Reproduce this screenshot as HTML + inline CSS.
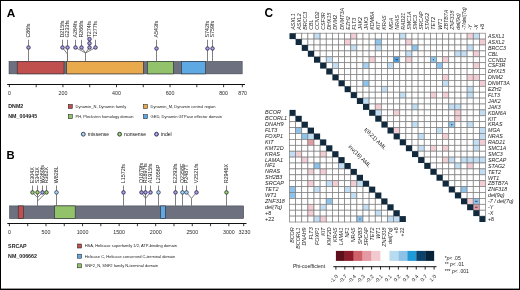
<!DOCTYPE html><html><head><meta charset="utf-8"><style>
html,body{margin:0;padding:0;background:#fff;width:520px;height:290px;overflow:hidden}
svg{display:block;will-change:transform}text{font-family:"Liberation Sans",sans-serif}
.it{font-style:italic}.b{font-weight:bold}
</style></head><body>
<svg width="520" height="290" viewBox="0 0 520 290">
<rect x="0" y="0" width="520" height="290" fill="#fff"/>
<text x="6.8" y="16.6" font-size="11.8" class="b">A</text>
<text x="6.6" y="158.8" font-size="11.3" class="b">B</text>
<text x="264.5" y="16.9" font-size="11.9" class="b">C</text>
<rect x="9.0" y="61.3" width="233.2" height="12.600000000000009" fill="#6c707f" stroke="#3a3d45" stroke-width="0.5"/>
<rect x="17.2" y="61.3" width="46.8" height="12.600000000000009" fill="#c0504e" stroke="#2c2e36" stroke-width="0.6"/>
<rect x="66.7" y="61.3" width="76.60000000000001" height="12.600000000000009" fill="#e9a94d" stroke="#2c2e36" stroke-width="0.6"/>
<rect x="147.4" y="61.3" width="25.900000000000006" height="12.600000000000009" fill="#92c26a" stroke="#2c2e36" stroke-width="0.6"/>
<rect x="181.5" y="61.3" width="24.0" height="12.600000000000009" fill="#5ea9e3" stroke="#2c2e36" stroke-width="0.6"/>
<line x1="7.2" y1="84.5" x2="245.0" y2="84.5" stroke="#111" stroke-width="1.0"/>
<line x1="9.4" y1="84.5" x2="9.4" y2="87.2" stroke="#111" stroke-width="0.85"/>
<line x1="36.175" y1="84.5" x2="36.175" y2="87.2" stroke="#111" stroke-width="0.85"/>
<line x1="62.949999999999996" y1="84.5" x2="62.949999999999996" y2="87.2" stroke="#111" stroke-width="0.85"/>
<line x1="89.72500000000001" y1="84.5" x2="89.72500000000001" y2="87.2" stroke="#111" stroke-width="0.85"/>
<line x1="116.5" y1="84.5" x2="116.5" y2="87.2" stroke="#111" stroke-width="0.85"/>
<line x1="143.275" y1="84.5" x2="143.275" y2="87.2" stroke="#111" stroke-width="0.85"/>
<line x1="170.05" y1="84.5" x2="170.05" y2="87.2" stroke="#111" stroke-width="0.85"/>
<line x1="196.825" y1="84.5" x2="196.825" y2="87.2" stroke="#111" stroke-width="0.85"/>
<line x1="223.6" y1="84.5" x2="223.6" y2="87.2" stroke="#111" stroke-width="0.85"/>
<line x1="242.3425" y1="84.5" x2="242.3425" y2="87.2" stroke="#111" stroke-width="0.85"/>
<text x="9.4" y="95.4" font-size="5.3" text-anchor="middle" fill="#2a2a2a">0</text>
<text x="62.949999999999996" y="95.4" font-size="5.3" text-anchor="middle" fill="#2a2a2a">200</text>
<text x="116.5" y="95.4" font-size="5.3" text-anchor="middle" fill="#2a2a2a">400</text>
<text x="170.05" y="95.4" font-size="5.3" text-anchor="middle" fill="#2a2a2a">600</text>
<text x="223.6" y="95.4" font-size="5.3" text-anchor="middle" fill="#2a2a2a">800</text>
<text x="242.6425" y="95.4" font-size="5.3" text-anchor="middle" fill="#2a2a2a">870</text>
<path d="M62.5,47.5 L67.5,54.2 L67.5,61.3" fill="none" stroke="#6a6a6a" stroke-width="0.85"/>
<path d="M67.5,47.5 L67.5,61.3" fill="none" stroke="#6a6a6a" stroke-width="0.85"/>
<path d="M75.5,47.5 L85.5,53.0" fill="none" stroke="#6a6a6a" stroke-width="0.85"/>
<path d="M81.5,47.5 L85.5,53.0" fill="none" stroke="#6a6a6a" stroke-width="0.85"/>
<path d="M89.5,47.5 L85.5,53.0" fill="none" stroke="#6a6a6a" stroke-width="0.85"/>
<path d="M95.5,47.5 L85.5,53.0" fill="none" stroke="#6a6a6a" stroke-width="0.85"/>
<path d="M85.5,53.0 L85.5,61.3" fill="none" stroke="#6a6a6a" stroke-width="0.85"/>
<path d="M28.5,47.5 L28.5,61.3" fill="none" stroke="#6a6a6a" stroke-width="0.85"/>
<path d="M156.5,48.5 L156.5,61.3" fill="none" stroke="#6a6a6a" stroke-width="0.85"/>
<path d="M207.5,48.5 L207.5,61.3" fill="none" stroke="#6a6a6a" stroke-width="0.85"/>
<path d="M212.5,48.5 L212.5,61.3" fill="none" stroke="#6a6a6a" stroke-width="0.85"/>
<line x1="28.5" y1="39.800000000000004" x2="28.5" y2="47.5" stroke="#7a7a7a" stroke-width="0.95"/>
<circle cx="28.5" cy="47.5" r="1.85" fill="#8a80d2" stroke="#1e1b30" stroke-width="0.6"/>
<path d="M27.5,47.5 H29.5 M28.5,46.5 V48.5" stroke="#fff" stroke-width="0.35" opacity="0.55"/>
<text transform="translate(30.4,37.6) rotate(-90)" font-size="5.4" fill="#222">C86fs</text>
<line x1="62.5" y1="39.800000000000004" x2="62.5" y2="47.5" stroke="#7a7a7a" stroke-width="0.95"/>
<circle cx="62.5" cy="47.5" r="1.85" fill="#8a80d2" stroke="#1e1b30" stroke-width="0.6"/>
<path d="M61.5,47.5 H63.5 M62.5,46.5 V48.5" stroke="#fff" stroke-width="0.35" opacity="0.55"/>
<text transform="translate(64.4,37.6) rotate(-90)" font-size="5.4" fill="#222">D215fs</text>
<line x1="67.5" y1="39.800000000000004" x2="67.5" y2="47.5" stroke="#7a7a7a" stroke-width="0.95"/>
<circle cx="67.5" cy="47.5" r="1.85" fill="#8a80d2" stroke="#1e1b30" stroke-width="0.6"/>
<path d="M66.5,47.5 H68.5 M67.5,46.5 V48.5" stroke="#fff" stroke-width="0.35" opacity="0.55"/>
<text transform="translate(69.4,37.6) rotate(-90)" font-size="5.4" fill="#222">G233fs</text>
<line x1="75.5" y1="39.800000000000004" x2="75.5" y2="47.5" stroke="#7a7a7a" stroke-width="0.95"/>
<circle cx="75.5" cy="47.5" r="1.85" fill="#8a80d2" stroke="#1e1b30" stroke-width="0.6"/>
<path d="M74.5,47.5 H76.5 M75.5,46.5 V48.5" stroke="#fff" stroke-width="0.35" opacity="0.55"/>
<text transform="translate(77.4,37.6) rotate(-90)" font-size="5.4" fill="#222">A264fs</text>
<line x1="81.5" y1="39.800000000000004" x2="81.5" y2="47.5" stroke="#7a7a7a" stroke-width="0.95"/>
<circle cx="81.5" cy="47.5" r="1.85" fill="#8a80d2" stroke="#1e1b30" stroke-width="0.6"/>
<path d="M80.5,47.5 H82.5 M81.5,46.5 V48.5" stroke="#fff" stroke-width="0.35" opacity="0.55"/>
<text transform="translate(83.4,37.6) rotate(-90)" font-size="5.4" fill="#222">R266fs</text>
<line x1="89.5" y1="39.800000000000004" x2="89.5" y2="47.5" stroke="#7a7a7a" stroke-width="0.95"/>
<circle cx="89.5" cy="47.5" r="1.85" fill="#8a80d2" stroke="#1e1b30" stroke-width="0.6"/>
<path d="M88.5,47.5 H90.5 M89.5,46.5 V48.5" stroke="#fff" stroke-width="0.35" opacity="0.55"/>
<circle cx="89.5" cy="43.3" r="1.85" fill="#8a80d2" stroke="#1e1b30" stroke-width="0.6"/>
<path d="M88.5,43.3 H90.5 M89.5,42.3 V44.3" stroke="#fff" stroke-width="0.35" opacity="0.55"/>
<circle cx="89.5" cy="39.1" r="1.85" fill="#8a80d2" stroke="#1e1b30" stroke-width="0.6"/>
<path d="M88.5,39.1 H90.5 M89.5,38.1 V40.1" stroke="#fff" stroke-width="0.35" opacity="0.55"/>
<text transform="translate(91.4,37.6) rotate(-90)" font-size="5.4" fill="#222">T274fs</text>
<line x1="95.5" y1="39.800000000000004" x2="95.5" y2="47.5" stroke="#7a7a7a" stroke-width="0.95"/>
<circle cx="95.5" cy="47.5" r="1.85" fill="#8a80d2" stroke="#1e1b30" stroke-width="0.6"/>
<path d="M94.5,47.5 H96.5 M95.5,46.5 V48.5" stroke="#fff" stroke-width="0.35" opacity="0.55"/>
<text transform="translate(97.4,37.6) rotate(-90)" font-size="5.4" fill="#222">T277fs</text>
<line x1="156.5" y1="39.800000000000004" x2="156.5" y2="48.5" stroke="#7a7a7a" stroke-width="0.95"/>
<circle cx="156.5" cy="48.5" r="1.85" fill="#8a80d2" stroke="#1e1b30" stroke-width="0.6"/>
<path d="M155.5,48.5 H157.5 M156.5,47.5 V49.5" stroke="#fff" stroke-width="0.35" opacity="0.55"/>
<text transform="translate(158.4,37.6) rotate(-90)" font-size="5.4" fill="#222">A543fs</text>
<line x1="207.5" y1="39.800000000000004" x2="207.5" y2="48.5" stroke="#7a7a7a" stroke-width="0.95"/>
<circle cx="207.5" cy="48.5" r="1.85" fill="#8a80d2" stroke="#1e1b30" stroke-width="0.6"/>
<path d="M206.5,48.5 H208.5 M207.5,47.5 V49.5" stroke="#fff" stroke-width="0.35" opacity="0.55"/>
<text transform="translate(209.4,37.6) rotate(-90)" font-size="5.4" fill="#222">S742fs</text>
<line x1="212.5" y1="39.800000000000004" x2="212.5" y2="48.5" stroke="#7a7a7a" stroke-width="0.95"/>
<circle cx="212.5" cy="48.5" r="1.85" fill="#8a80d2" stroke="#1e1b30" stroke-width="0.6"/>
<path d="M211.5,48.5 H213.5 M212.5,47.5 V49.5" stroke="#fff" stroke-width="0.35" opacity="0.55"/>
<text transform="translate(214.4,37.6) rotate(-90)" font-size="5.4" fill="#222">S759fs</text>
<text x="8.3" y="108.0" font-size="5.3" class="b" fill="#222">DNM2</text>
<text x="8.3" y="118.4" font-size="5.3" class="b" fill="#222">NM_004945</text>
<rect x="68.3" y="104.5" width="4" height="4" fill="#c0504e" stroke="#222" stroke-width="0.55"/>
<text x="75.5" y="107.95" font-size="4.02" fill="#222">Dynamin_N, Dynamin family</text>
<rect x="68.3" y="114.7" width="4" height="4" fill="#92c26a" stroke="#222" stroke-width="0.55"/>
<text x="75.5" y="118.15" font-size="4.02" fill="#222">PH, Pleckstrin homology domain</text>
<rect x="143.4" y="104.5" width="4" height="4" fill="#e9a94d" stroke="#222" stroke-width="0.55"/>
<text x="150.6" y="107.95" font-size="4.02" fill="#222">Dynamin_M, Dynamin central region</text>
<rect x="143.4" y="114.7" width="4" height="4" fill="#5ea9e3" stroke="#222" stroke-width="0.55"/>
<text x="150.6" y="118.15" font-size="4.02" fill="#222">GED, Dynamin GTPase effector domain</text>
<circle cx="83.3" cy="134.2" r="1.95" fill="#8fc7ee" stroke="#1c2030" stroke-width="0.75"/>
<path d="M82.2,134.2 H84.39999999999999 M83.3,133.1 V135.29999999999998" stroke="#f4f4ff" stroke-width="0.4" opacity="0.8"/>
<text x="87.8" y="136.04999999999998" font-size="5.05" fill="#111">missense</text>
<circle cx="119.6" cy="134.2" r="1.95" fill="#7cbb4c" stroke="#1c2030" stroke-width="0.75"/>
<path d="M118.5,134.2 H120.69999999999999 M119.6,133.1 V135.29999999999998" stroke="#f4f4ff" stroke-width="0.4" opacity="0.8"/>
<text x="124.1" y="136.04999999999998" font-size="5.05" fill="#111">nonsense</text>
<circle cx="156.5" cy="134.2" r="1.95" fill="#8a80d2" stroke="#1c2030" stroke-width="0.75"/>
<path d="M155.4,134.2 H157.6 M156.5,133.1 V135.29999999999998" stroke="#f4f4ff" stroke-width="0.4" opacity="0.8"/>
<text x="161.0" y="136.04999999999998" font-size="5.05" fill="#111">indel</text>
<rect x="9.5" y="205.9" width="234.2" height="12.699999999999989" fill="#6c707f" stroke="#3a3d45" stroke-width="0.5"/>
<rect x="18.2" y="205.9" width="5.300000000000001" height="12.699999999999989" fill="#c0504e" stroke="#2c2e36" stroke-width="0.6"/>
<rect x="54.6" y="205.9" width="20.6" height="12.699999999999989" fill="#92c26a" stroke="#2c2e36" stroke-width="0.6"/>
<rect x="160.7" y="205.9" width="4.600000000000023" height="12.699999999999989" fill="#5ea9e3" stroke="#2c2e36" stroke-width="0.6"/>
<line x1="7.3" y1="223.5" x2="246.5" y2="223.5" stroke="#111" stroke-width="1.0"/>
<line x1="9.4" y1="223.5" x2="9.4" y2="226.2" stroke="#111" stroke-width="0.85"/>
<line x1="27.6875" y1="223.5" x2="27.6875" y2="226.2" stroke="#111" stroke-width="0.85"/>
<line x1="45.975" y1="223.5" x2="45.975" y2="226.2" stroke="#111" stroke-width="0.85"/>
<line x1="64.2625" y1="223.5" x2="64.2625" y2="226.2" stroke="#111" stroke-width="0.85"/>
<line x1="82.55000000000001" y1="223.5" x2="82.55000000000001" y2="226.2" stroke="#111" stroke-width="0.85"/>
<line x1="100.83750000000002" y1="223.5" x2="100.83750000000002" y2="226.2" stroke="#111" stroke-width="0.85"/>
<line x1="119.12500000000001" y1="223.5" x2="119.12500000000001" y2="226.2" stroke="#111" stroke-width="0.85"/>
<line x1="137.41250000000002" y1="223.5" x2="137.41250000000002" y2="226.2" stroke="#111" stroke-width="0.85"/>
<line x1="155.70000000000002" y1="223.5" x2="155.70000000000002" y2="226.2" stroke="#111" stroke-width="0.85"/>
<line x1="173.9875" y1="223.5" x2="173.9875" y2="226.2" stroke="#111" stroke-width="0.85"/>
<line x1="192.27500000000003" y1="223.5" x2="192.27500000000003" y2="226.2" stroke="#111" stroke-width="0.85"/>
<line x1="210.56250000000003" y1="223.5" x2="210.56250000000003" y2="226.2" stroke="#111" stroke-width="0.85"/>
<line x1="228.85000000000002" y1="223.5" x2="228.85000000000002" y2="226.2" stroke="#111" stroke-width="0.85"/>
<line x1="243.7" y1="223.5" x2="243.7" y2="226.2" stroke="#111" stroke-width="0.85"/>
<text x="9.4" y="234.3" font-size="5.3" text-anchor="middle" fill="#2a2a2a">0</text>
<text x="45.975" y="234.3" font-size="5.3" text-anchor="middle" fill="#2a2a2a">500</text>
<text x="82.55000000000001" y="234.3" font-size="5.3" text-anchor="middle" fill="#2a2a2a">1000</text>
<text x="119.12500000000001" y="234.3" font-size="5.3" text-anchor="middle" fill="#2a2a2a">1500</text>
<text x="155.70000000000002" y="234.3" font-size="5.3" text-anchor="middle" fill="#2a2a2a">2000</text>
<text x="192.27500000000003" y="234.3" font-size="5.3" text-anchor="middle" fill="#2a2a2a">2500</text>
<text x="228.85000000000002" y="234.3" font-size="5.3" text-anchor="middle" fill="#2a2a2a">3000</text>
<text x="244.5" y="234.3" font-size="5.3" text-anchor="middle" fill="#2a2a2a">3230</text>
<path d="M32.5,192.4 L37.5,197.6" fill="none" stroke="#6a6a6a" stroke-width="0.85"/>
<path d="M42.5,192.4 L37.5,197.6" fill="none" stroke="#6a6a6a" stroke-width="0.85"/>
<path d="M46.5,192.4 L37.5,201.0" fill="none" stroke="#6a6a6a" stroke-width="0.85"/>
<path d="M37.5,192.4 L37.5,205.9" fill="none" stroke="#6a6a6a" stroke-width="0.85"/>
<path d="M141.5,192.4 L145.5,198.4" fill="none" stroke="#6a6a6a" stroke-width="0.85"/>
<path d="M150.5,192.4 L145.5,198.4" fill="none" stroke="#6a6a6a" stroke-width="0.85"/>
<path d="M145.5,192.4 L145.5,205.9" fill="none" stroke="#6a6a6a" stroke-width="0.85"/>
<path d="M186.5,192.4 L191.5,198.4" fill="none" stroke="#6a6a6a" stroke-width="0.85"/>
<path d="M196.5,192.4 L191.5,198.4" fill="none" stroke="#6a6a6a" stroke-width="0.85"/>
<path d="M191.5,198.4 L191.5,205.9" fill="none" stroke="#6a6a6a" stroke-width="0.85"/>
<path d="M56.5,192.4 L56.5,205.9" fill="none" stroke="#6a6a6a" stroke-width="0.85"/>
<path d="M123.5,192.4 L123.5,205.9" fill="none" stroke="#6a6a6a" stroke-width="0.85"/>
<path d="M158.5,192.4 L158.5,205.9" fill="none" stroke="#6a6a6a" stroke-width="0.85"/>
<path d="M175.5,192.4 L175.5,205.9" fill="none" stroke="#6a6a6a" stroke-width="0.85"/>
<path d="M182.5,192.4 L182.5,205.9" fill="none" stroke="#6a6a6a" stroke-width="0.85"/>
<path d="M226.5,192.4 L226.5,205.9" fill="none" stroke="#6a6a6a" stroke-width="0.85"/>
<line x1="32.5" y1="185.5" x2="32.5" y2="192.4" stroke="#7a7a7a" stroke-width="0.95"/>
<circle cx="32.5" cy="192.4" r="1.85" fill="#7cbb4c" stroke="#1e1b30" stroke-width="0.6"/>
<path d="M31.5,192.4 H33.5 M32.5,191.4 V193.4" stroke="#fff" stroke-width="0.35" opacity="0.55"/>
<text transform="translate(34.4,183.3) rotate(-90)" font-size="5.4" fill="#222">E304X</text>
<line x1="37.5" y1="185.5" x2="37.5" y2="192.4" stroke="#7a7a7a" stroke-width="0.95"/>
<circle cx="37.5" cy="192.4" r="1.85" fill="#7cbb4c" stroke="#1e1b30" stroke-width="0.6"/>
<path d="M36.5,192.4 H38.5 M37.5,191.4 V193.4" stroke="#fff" stroke-width="0.35" opacity="0.55"/>
<text transform="translate(39.4,183.3) rotate(-90)" font-size="5.4" fill="#222">S343X</text>
<line x1="42.5" y1="185.5" x2="42.5" y2="192.4" stroke="#7a7a7a" stroke-width="0.95"/>
<circle cx="42.5" cy="192.4" r="1.85" fill="#8a80d2" stroke="#1e1b30" stroke-width="0.6"/>
<path d="M41.5,192.4 H43.5 M42.5,191.4 V193.4" stroke="#fff" stroke-width="0.35" opacity="0.55"/>
<text transform="translate(44.4,183.3) rotate(-90)" font-size="5.4" fill="#222">W360fs</text>
<line x1="46.5" y1="185.5" x2="46.5" y2="192.4" stroke="#7a7a7a" stroke-width="0.95"/>
<circle cx="46.5" cy="192.4" r="1.85" fill="#7cbb4c" stroke="#1e1b30" stroke-width="0.6"/>
<path d="M45.5,192.4 H47.5 M46.5,191.4 V193.4" stroke="#fff" stroke-width="0.35" opacity="0.55"/>
<text transform="translate(48.4,183.3) rotate(-90)" font-size="5.4" fill="#222">R382X</text>
<line x1="56.5" y1="185.5" x2="56.5" y2="192.4" stroke="#7a7a7a" stroke-width="0.95"/>
<circle cx="56.5" cy="192.4" r="1.85" fill="#8fc7ee" stroke="#1e1b30" stroke-width="0.6"/>
<path d="M55.5,192.4 H57.5 M56.5,191.4 V193.4" stroke="#fff" stroke-width="0.35" opacity="0.55"/>
<text transform="translate(58.4,183.3) rotate(-90)" font-size="5.4" fill="#222">W828L</text>
<line x1="123.5" y1="185.5" x2="123.5" y2="192.4" stroke="#7a7a7a" stroke-width="0.95"/>
<circle cx="123.5" cy="192.4" r="1.85" fill="#8a80d2" stroke="#1e1b30" stroke-width="0.6"/>
<path d="M122.5,192.4 H124.5 M123.5,191.4 V193.4" stroke="#fff" stroke-width="0.35" opacity="0.55"/>
<text transform="translate(125.4,183.3) rotate(-90)" font-size="5.4" fill="#222">L1572fs</text>
<line x1="141.5" y1="185.5" x2="141.5" y2="192.4" stroke="#7a7a7a" stroke-width="0.95"/>
<circle cx="141.5" cy="192.4" r="1.85" fill="#8a80d2" stroke="#1e1b30" stroke-width="0.6"/>
<path d="M140.5,192.4 H142.5 M141.5,191.4 V193.4" stroke="#fff" stroke-width="0.35" opacity="0.55"/>
<text transform="translate(143.4,183.3) rotate(-90)" font-size="5.4" fill="#222">Q1879fs</text>
<line x1="145.5" y1="185.5" x2="145.5" y2="192.4" stroke="#7a7a7a" stroke-width="0.95"/>
<circle cx="145.5" cy="192.4" r="1.85" fill="#8a80d2" stroke="#1e1b30" stroke-width="0.6"/>
<path d="M144.5,192.4 H146.5 M145.5,191.4 V193.4" stroke="#fff" stroke-width="0.35" opacity="0.55"/>
<text transform="translate(147.4,183.3) rotate(-90)" font-size="5.4" fill="#222">R1897fs</text>
<line x1="150.5" y1="185.5" x2="150.5" y2="192.4" stroke="#7a7a7a" stroke-width="0.95"/>
<circle cx="150.5" cy="192.4" r="1.85" fill="#8a80d2" stroke="#1e1b30" stroke-width="0.6"/>
<path d="M149.5,192.4 H151.5 M150.5,191.4 V193.4" stroke="#fff" stroke-width="0.35" opacity="0.55"/>
<text transform="translate(152.4,183.3) rotate(-90)" font-size="5.4" fill="#222">A1915fs</text>
<line x1="158.5" y1="185.5" x2="158.5" y2="192.4" stroke="#7a7a7a" stroke-width="0.95"/>
<circle cx="158.5" cy="192.4" r="1.85" fill="#8fc7ee" stroke="#1e1b30" stroke-width="0.6"/>
<path d="M157.5,192.4 H159.5 M158.5,191.4 V193.4" stroke="#fff" stroke-width="0.35" opacity="0.55"/>
<text transform="translate(160.4,183.3) rotate(-90)" font-size="5.4" fill="#222">L2056P</text>
<line x1="175.5" y1="185.5" x2="175.5" y2="192.4" stroke="#7a7a7a" stroke-width="0.95"/>
<circle cx="175.5" cy="192.4" r="1.85" fill="#8a80d2" stroke="#1e1b30" stroke-width="0.6"/>
<path d="M174.5,192.4 H176.5 M175.5,191.4 V193.4" stroke="#fff" stroke-width="0.35" opacity="0.55"/>
<text transform="translate(177.4,183.3) rotate(-90)" font-size="5.4" fill="#222">E2293fs</text>
<line x1="182.5" y1="185.5" x2="182.5" y2="192.4" stroke="#7a7a7a" stroke-width="0.95"/>
<circle cx="182.5" cy="192.4" r="1.85" fill="#8fc7ee" stroke="#1e1b30" stroke-width="0.6"/>
<path d="M181.5,192.4 H183.5 M182.5,191.4 V193.4" stroke="#fff" stroke-width="0.35" opacity="0.55"/>
<text transform="translate(184.4,183.3) rotate(-90)" font-size="5.4" fill="#222">Q2358E</text>
<line x1="186.5" y1="185.5" x2="186.5" y2="192.4" stroke="#7a7a7a" stroke-width="0.95"/>
<circle cx="186.5" cy="192.4" r="1.85" fill="#8fc7ee" stroke="#1e1b30" stroke-width="0.6"/>
<path d="M185.5,192.4 H187.5 M186.5,191.4 V193.4" stroke="#fff" stroke-width="0.35" opacity="0.55"/>
<text transform="translate(188.4,183.3) rotate(-90)" font-size="5.4" fill="#222">P2487T</text>
<line x1="196.5" y1="185.5" x2="196.5" y2="192.4" stroke="#7a7a7a" stroke-width="0.95"/>
<circle cx="196.5" cy="192.4" r="1.85" fill="#8a80d2" stroke="#1e1b30" stroke-width="0.6"/>
<path d="M195.5,192.4 H197.5 M196.5,191.4 V193.4" stroke="#fff" stroke-width="0.35" opacity="0.55"/>
<text transform="translate(198.4,183.3) rotate(-90)" font-size="5.4" fill="#222">V2521fs</text>
<line x1="226.5" y1="185.5" x2="226.5" y2="192.4" stroke="#7a7a7a" stroke-width="0.95"/>
<circle cx="226.5" cy="192.4" r="1.85" fill="#7cbb4c" stroke="#1e1b30" stroke-width="0.6"/>
<path d="M225.5,192.4 H227.5 M226.5,191.4 V193.4" stroke="#fff" stroke-width="0.35" opacity="0.55"/>
<text transform="translate(228.4,183.3) rotate(-90)" font-size="5.4" fill="#222">R2946X</text>
<text x="8.1" y="247.8" font-size="5.3" class="b" fill="#222">SRCAP</text>
<text x="8.1" y="257.6" font-size="5.3" class="b" fill="#222">NM_006662</text>
<rect x="77.5" y="244.0" width="4" height="4" fill="#c0504e" stroke="#222" stroke-width="0.55"/>
<text x="84.7" y="247.45" font-size="4.02" fill="#222">HSA, Helicase superfamily 1/2, ATP-binding domain</text>
<rect x="77.5" y="254.2" width="4" height="4" fill="#5ea9e3" stroke="#222" stroke-width="0.55"/>
<text x="84.7" y="257.65" font-size="4.02" fill="#222">Helicase C, Helicase conserved C-terminal domain</text>
<rect x="77.5" y="263.8" width="4" height="4" fill="#92c26a" stroke="#222" stroke-width="0.55"/>
<text x="84.7" y="267.25" font-size="4.02" fill="#222">SNF2_N, SNF2 family N-terminal domain</text>
<rect x="295.625" y="33.200" width="6.125" height="5.900" fill="#ffffff" stroke="#7e7e7e" stroke-width="0.7"/>
<rect x="301.750" y="33.200" width="6.125" height="5.900" fill="#ffffff" stroke="#7e7e7e" stroke-width="0.7"/>
<rect x="307.875" y="33.200" width="6.125" height="5.900" fill="#ffffff" stroke="#7e7e7e" stroke-width="0.7"/>
<rect x="314.000" y="33.200" width="6.125" height="5.900" fill="#c1def4" stroke="#7e7e7e" stroke-width="0.7"/>
<rect x="320.125" y="33.200" width="6.125" height="5.900" fill="#ffffff" stroke="#7e7e7e" stroke-width="0.7"/>
<rect x="326.250" y="33.200" width="6.125" height="5.900" fill="#ffffff" stroke="#7e7e7e" stroke-width="0.7"/>
<rect x="332.375" y="33.200" width="6.125" height="5.900" fill="#ffffff" stroke="#7e7e7e" stroke-width="0.7"/>
<rect x="338.500" y="33.200" width="6.125" height="5.900" fill="#ffffff" stroke="#7e7e7e" stroke-width="0.7"/>
<rect x="344.625" y="33.200" width="6.125" height="5.900" fill="#ffffff" stroke="#7e7e7e" stroke-width="0.7"/>
<rect x="350.750" y="33.200" width="6.125" height="5.900" fill="#f3cdd4" stroke="#7e7e7e" stroke-width="0.7"/>
<rect x="356.875" y="33.200" width="6.125" height="5.900" fill="#ffffff" stroke="#7e7e7e" stroke-width="0.7"/>
<rect x="363.000" y="33.200" width="6.125" height="5.900" fill="#ffffff" stroke="#7e7e7e" stroke-width="0.7"/>
<rect x="369.125" y="33.200" width="6.125" height="5.900" fill="#ffffff" stroke="#7e7e7e" stroke-width="0.7"/>
<rect x="375.250" y="33.200" width="6.125" height="5.900" fill="#ffffff" stroke="#7e7e7e" stroke-width="0.7"/>
<rect x="381.375" y="33.200" width="6.125" height="5.900" fill="#ffffff" stroke="#7e7e7e" stroke-width="0.7"/>
<rect x="387.500" y="33.200" width="6.125" height="5.900" fill="#ffffff" stroke="#7e7e7e" stroke-width="0.7"/>
<rect x="393.625" y="33.200" width="6.125" height="5.900" fill="#ffffff" stroke="#7e7e7e" stroke-width="0.7"/>
<rect x="399.750" y="33.200" width="6.125" height="5.900" fill="#c1def4" stroke="#7e7e7e" stroke-width="0.7"/>
<rect x="405.875" y="33.200" width="6.125" height="5.900" fill="#ffffff" stroke="#7e7e7e" stroke-width="0.7"/>
<rect x="412.000" y="33.200" width="6.125" height="5.900" fill="#ffffff" stroke="#7e7e7e" stroke-width="0.7"/>
<rect x="418.125" y="33.200" width="6.125" height="5.900" fill="#ffffff" stroke="#7e7e7e" stroke-width="0.7"/>
<rect x="424.250" y="33.200" width="6.125" height="5.900" fill="#ffffff" stroke="#7e7e7e" stroke-width="0.7"/>
<rect x="430.375" y="33.200" width="6.125" height="5.900" fill="#ffffff" stroke="#7e7e7e" stroke-width="0.7"/>
<rect x="436.500" y="33.200" width="6.125" height="5.900" fill="#ffffff" stroke="#7e7e7e" stroke-width="0.7"/>
<rect x="442.625" y="33.200" width="6.125" height="5.900" fill="#ffffff" stroke="#7e7e7e" stroke-width="0.7"/>
<rect x="448.750" y="33.200" width="6.125" height="5.900" fill="#ffffff" stroke="#7e7e7e" stroke-width="0.7"/>
<rect x="454.875" y="33.200" width="6.125" height="5.900" fill="#ffffff" stroke="#7e7e7e" stroke-width="0.7"/>
<rect x="461.000" y="33.200" width="6.125" height="5.900" fill="#ffffff" stroke="#7e7e7e" stroke-width="0.7"/>
<rect x="467.125" y="33.200" width="6.125" height="5.900" fill="#f3cdd4" stroke="#7e7e7e" stroke-width="0.7"/>
<rect x="473.250" y="33.200" width="6.125" height="5.900" fill="#c1def4" stroke="#7e7e7e" stroke-width="0.7"/>
<rect x="479.375" y="33.200" width="6.125" height="5.900" fill="#ffffff" stroke="#7e7e7e" stroke-width="0.7"/>
<rect x="301.750" y="39.100" width="6.125" height="5.900" fill="#ffffff" stroke="#7e7e7e" stroke-width="0.7"/>
<rect x="307.875" y="39.100" width="6.125" height="5.900" fill="#ffffff" stroke="#7e7e7e" stroke-width="0.7"/>
<rect x="314.000" y="39.100" width="6.125" height="5.900" fill="#ffffff" stroke="#7e7e7e" stroke-width="0.7"/>
<rect x="320.125" y="39.100" width="6.125" height="5.900" fill="#ffffff" stroke="#7e7e7e" stroke-width="0.7"/>
<rect x="326.250" y="39.100" width="6.125" height="5.900" fill="#ffffff" stroke="#7e7e7e" stroke-width="0.7"/>
<rect x="332.375" y="39.100" width="6.125" height="5.900" fill="#ffffff" stroke="#7e7e7e" stroke-width="0.7"/>
<rect x="338.500" y="39.100" width="6.125" height="5.900" fill="#ffffff" stroke="#7e7e7e" stroke-width="0.7"/>
<rect x="344.625" y="39.100" width="6.125" height="5.900" fill="#f3cdd4" stroke="#7e7e7e" stroke-width="0.7"/>
<rect x="350.750" y="39.100" width="6.125" height="5.900" fill="#ffffff" stroke="#7e7e7e" stroke-width="0.7"/>
<rect x="356.875" y="39.100" width="6.125" height="5.900" fill="#ffffff" stroke="#7e7e7e" stroke-width="0.7"/>
<rect x="363.000" y="39.100" width="6.125" height="5.900" fill="#ffffff" stroke="#7e7e7e" stroke-width="0.7"/>
<rect x="369.125" y="39.100" width="6.125" height="5.900" fill="#ffffff" stroke="#7e7e7e" stroke-width="0.7"/>
<rect x="375.250" y="39.100" width="6.125" height="5.900" fill="#8dc2ea" stroke="#7e7e7e" stroke-width="0.7"/>
<rect x="381.375" y="39.100" width="6.125" height="5.900" fill="#ffffff" stroke="#7e7e7e" stroke-width="0.7"/>
<rect x="387.500" y="39.100" width="6.125" height="5.900" fill="#ffffff" stroke="#7e7e7e" stroke-width="0.7"/>
<rect x="393.625" y="39.100" width="6.125" height="5.900" fill="#ffffff" stroke="#7e7e7e" stroke-width="0.7"/>
<rect x="399.750" y="39.100" width="6.125" height="5.900" fill="#ffffff" stroke="#7e7e7e" stroke-width="0.7"/>
<rect x="405.875" y="39.100" width="6.125" height="5.900" fill="#f3cdd4" stroke="#7e7e7e" stroke-width="0.7"/>
<rect x="412.000" y="39.100" width="6.125" height="5.900" fill="#ffffff" stroke="#7e7e7e" stroke-width="0.7"/>
<rect x="418.125" y="39.100" width="6.125" height="5.900" fill="#ffffff" stroke="#7e7e7e" stroke-width="0.7"/>
<rect x="424.250" y="39.100" width="6.125" height="5.900" fill="#ffffff" stroke="#7e7e7e" stroke-width="0.7"/>
<rect x="430.375" y="39.100" width="6.125" height="5.900" fill="#ffffff" stroke="#7e7e7e" stroke-width="0.7"/>
<rect x="436.500" y="39.100" width="6.125" height="5.900" fill="#ffffff" stroke="#7e7e7e" stroke-width="0.7"/>
<rect x="442.625" y="39.100" width="6.125" height="5.900" fill="#ffffff" stroke="#7e7e7e" stroke-width="0.7"/>
<rect x="448.750" y="39.100" width="6.125" height="5.900" fill="#ffffff" stroke="#7e7e7e" stroke-width="0.7"/>
<rect x="454.875" y="39.100" width="6.125" height="5.900" fill="#ffffff" stroke="#7e7e7e" stroke-width="0.7"/>
<rect x="461.000" y="39.100" width="6.125" height="5.900" fill="#ffffff" stroke="#7e7e7e" stroke-width="0.7"/>
<rect x="467.125" y="39.100" width="6.125" height="5.900" fill="#ffffff" stroke="#7e7e7e" stroke-width="0.7"/>
<rect x="473.250" y="39.100" width="6.125" height="5.900" fill="#ffffff" stroke="#7e7e7e" stroke-width="0.7"/>
<rect x="479.375" y="39.100" width="6.125" height="5.900" fill="#f3cdd4" stroke="#7e7e7e" stroke-width="0.7"/>
<rect x="307.875" y="45.000" width="6.125" height="5.900" fill="#ffffff" stroke="#7e7e7e" stroke-width="0.7"/>
<rect x="314.000" y="45.000" width="6.125" height="5.900" fill="#ffffff" stroke="#7e7e7e" stroke-width="0.7"/>
<rect x="320.125" y="45.000" width="6.125" height="5.900" fill="#ffffff" stroke="#7e7e7e" stroke-width="0.7"/>
<rect x="326.250" y="45.000" width="6.125" height="5.900" fill="#ffffff" stroke="#7e7e7e" stroke-width="0.7"/>
<rect x="332.375" y="45.000" width="6.125" height="5.900" fill="#ffffff" stroke="#7e7e7e" stroke-width="0.7"/>
<rect x="338.500" y="45.000" width="6.125" height="5.900" fill="#ffffff" stroke="#7e7e7e" stroke-width="0.7"/>
<rect x="344.625" y="45.000" width="6.125" height="5.900" fill="#ffffff" stroke="#7e7e7e" stroke-width="0.7"/>
<rect x="350.750" y="45.000" width="6.125" height="5.900" fill="#c1def4" stroke="#7e7e7e" stroke-width="0.7"/>
<rect x="356.875" y="45.000" width="6.125" height="5.900" fill="#ffffff" stroke="#7e7e7e" stroke-width="0.7"/>
<rect x="363.000" y="45.000" width="6.125" height="5.900" fill="#ffffff" stroke="#7e7e7e" stroke-width="0.7"/>
<rect x="369.125" y="45.000" width="6.125" height="5.900" fill="#ffffff" stroke="#7e7e7e" stroke-width="0.7"/>
<rect x="375.250" y="45.000" width="6.125" height="5.900" fill="#c1def4" stroke="#7e7e7e" stroke-width="0.7"/>
<rect x="381.375" y="45.000" width="6.125" height="5.900" fill="#ffffff" stroke="#7e7e7e" stroke-width="0.7"/>
<rect x="387.500" y="45.000" width="6.125" height="5.900" fill="#ffffff" stroke="#7e7e7e" stroke-width="0.7"/>
<rect x="393.625" y="45.000" width="6.125" height="5.900" fill="#ffffff" stroke="#7e7e7e" stroke-width="0.7"/>
<rect x="399.750" y="45.000" width="6.125" height="5.900" fill="#ffffff" stroke="#7e7e7e" stroke-width="0.7"/>
<rect x="405.875" y="45.000" width="6.125" height="5.900" fill="#ffffff" stroke="#7e7e7e" stroke-width="0.7"/>
<rect x="412.000" y="45.000" width="6.125" height="5.900" fill="#8dc2ea" stroke="#7e7e7e" stroke-width="0.7"/>
<rect x="418.125" y="45.000" width="6.125" height="5.900" fill="#ffffff" stroke="#7e7e7e" stroke-width="0.7"/>
<rect x="424.250" y="45.000" width="6.125" height="5.900" fill="#ffffff" stroke="#7e7e7e" stroke-width="0.7"/>
<rect x="430.375" y="45.000" width="6.125" height="5.900" fill="#ffffff" stroke="#7e7e7e" stroke-width="0.7"/>
<rect x="436.500" y="45.000" width="6.125" height="5.900" fill="#ffffff" stroke="#7e7e7e" stroke-width="0.7"/>
<rect x="442.625" y="45.000" width="6.125" height="5.900" fill="#ffffff" stroke="#7e7e7e" stroke-width="0.7"/>
<rect x="448.750" y="45.000" width="6.125" height="5.900" fill="#ffffff" stroke="#7e7e7e" stroke-width="0.7"/>
<rect x="454.875" y="45.000" width="6.125" height="5.900" fill="#ffffff" stroke="#7e7e7e" stroke-width="0.7"/>
<rect x="461.000" y="45.000" width="6.125" height="5.900" fill="#ffffff" stroke="#7e7e7e" stroke-width="0.7"/>
<rect x="467.125" y="45.000" width="6.125" height="5.900" fill="#c1def4" stroke="#7e7e7e" stroke-width="0.7"/>
<rect x="473.250" y="45.000" width="6.125" height="5.900" fill="#ffffff" stroke="#7e7e7e" stroke-width="0.7"/>
<rect x="479.375" y="45.000" width="6.125" height="5.900" fill="#ffffff" stroke="#7e7e7e" stroke-width="0.7"/>
<rect x="314.000" y="50.900" width="6.125" height="5.900" fill="#ffffff" stroke="#7e7e7e" stroke-width="0.7"/>
<rect x="320.125" y="50.900" width="6.125" height="5.900" fill="#ffffff" stroke="#7e7e7e" stroke-width="0.7"/>
<rect x="326.250" y="50.900" width="6.125" height="5.900" fill="#ffffff" stroke="#7e7e7e" stroke-width="0.7"/>
<rect x="332.375" y="50.900" width="6.125" height="5.900" fill="#ffffff" stroke="#7e7e7e" stroke-width="0.7"/>
<rect x="338.500" y="50.900" width="6.125" height="5.900" fill="#ffffff" stroke="#7e7e7e" stroke-width="0.7"/>
<rect x="344.625" y="50.900" width="6.125" height="5.900" fill="#ffffff" stroke="#7e7e7e" stroke-width="0.7"/>
<rect x="350.750" y="50.900" width="6.125" height="5.900" fill="#ffffff" stroke="#7e7e7e" stroke-width="0.7"/>
<rect x="356.875" y="50.900" width="6.125" height="5.900" fill="#ffffff" stroke="#7e7e7e" stroke-width="0.7"/>
<rect x="363.000" y="50.900" width="6.125" height="5.900" fill="#ffffff" stroke="#7e7e7e" stroke-width="0.7"/>
<rect x="369.125" y="50.900" width="6.125" height="5.900" fill="#ffffff" stroke="#7e7e7e" stroke-width="0.7"/>
<rect x="375.250" y="50.900" width="6.125" height="5.900" fill="#ffffff" stroke="#7e7e7e" stroke-width="0.7"/>
<rect x="381.375" y="50.900" width="6.125" height="5.900" fill="#ffffff" stroke="#7e7e7e" stroke-width="0.7"/>
<rect x="387.500" y="50.900" width="6.125" height="5.900" fill="#ffffff" stroke="#7e7e7e" stroke-width="0.7"/>
<rect x="393.625" y="50.900" width="6.125" height="5.900" fill="#ffffff" stroke="#7e7e7e" stroke-width="0.7"/>
<rect x="399.750" y="50.900" width="6.125" height="5.900" fill="#ffffff" stroke="#7e7e7e" stroke-width="0.7"/>
<rect x="405.875" y="50.900" width="6.125" height="5.900" fill="#c1def4" stroke="#7e7e7e" stroke-width="0.7"/>
<rect x="412.000" y="50.900" width="6.125" height="5.900" fill="#ffffff" stroke="#7e7e7e" stroke-width="0.7"/>
<rect x="418.125" y="50.900" width="6.125" height="5.900" fill="#ffffff" stroke="#7e7e7e" stroke-width="0.7"/>
<rect x="424.250" y="50.900" width="6.125" height="5.900" fill="#ffffff" stroke="#7e7e7e" stroke-width="0.7"/>
<rect x="430.375" y="50.900" width="6.125" height="5.900" fill="#ffffff" stroke="#7e7e7e" stroke-width="0.7"/>
<rect x="436.500" y="50.900" width="6.125" height="5.900" fill="#ffffff" stroke="#7e7e7e" stroke-width="0.7"/>
<rect x="442.625" y="50.900" width="6.125" height="5.900" fill="#ffffff" stroke="#7e7e7e" stroke-width="0.7"/>
<rect x="448.750" y="50.900" width="6.125" height="5.900" fill="#ffffff" stroke="#7e7e7e" stroke-width="0.7"/>
<rect x="454.875" y="50.900" width="6.125" height="5.900" fill="#c1def4" stroke="#7e7e7e" stroke-width="0.7"/>
<rect x="461.000" y="50.900" width="6.125" height="5.900" fill="#c1def4" stroke="#7e7e7e" stroke-width="0.7"/>
<rect x="467.125" y="50.900" width="6.125" height="5.900" fill="#ffffff" stroke="#7e7e7e" stroke-width="0.7"/>
<rect x="473.250" y="50.900" width="6.125" height="5.900" fill="#f3cdd4" stroke="#7e7e7e" stroke-width="0.7"/>
<rect x="479.375" y="50.900" width="6.125" height="5.900" fill="#ffffff" stroke="#7e7e7e" stroke-width="0.7"/>
<rect x="320.125" y="56.800" width="6.125" height="5.900" fill="#ffffff" stroke="#7e7e7e" stroke-width="0.7"/>
<rect x="326.250" y="56.800" width="6.125" height="5.900" fill="#c1def4" stroke="#7e7e7e" stroke-width="0.7"/>
<rect x="332.375" y="56.800" width="6.125" height="5.900" fill="#ffffff" stroke="#7e7e7e" stroke-width="0.7"/>
<rect x="338.500" y="56.800" width="6.125" height="5.900" fill="#ffffff" stroke="#7e7e7e" stroke-width="0.7"/>
<rect x="344.625" y="56.800" width="6.125" height="5.900" fill="#ffffff" stroke="#7e7e7e" stroke-width="0.7"/>
<rect x="350.750" y="56.800" width="6.125" height="5.900" fill="#ffffff" stroke="#7e7e7e" stroke-width="0.7"/>
<rect x="356.875" y="56.800" width="6.125" height="5.900" fill="#ffffff" stroke="#7e7e7e" stroke-width="0.7"/>
<rect x="363.000" y="56.800" width="6.125" height="5.900" fill="#ffffff" stroke="#7e7e7e" stroke-width="0.7"/>
<rect x="369.125" y="56.800" width="6.125" height="5.900" fill="#f3cdd4" stroke="#7e7e7e" stroke-width="0.7"/>
<rect x="375.250" y="56.800" width="6.125" height="5.900" fill="#ffffff" stroke="#7e7e7e" stroke-width="0.7"/>
<rect x="381.375" y="56.800" width="6.125" height="5.900" fill="#ffffff" stroke="#7e7e7e" stroke-width="0.7"/>
<rect x="387.500" y="56.800" width="6.125" height="5.900" fill="#ffffff" stroke="#7e7e7e" stroke-width="0.7"/>
<rect x="393.625" y="56.800" width="6.125" height="5.900" fill="#4f9fdf" stroke="#7e7e7e" stroke-width="0.7"/>
<rect x="399.750" y="56.800" width="6.125" height="5.900" fill="#ffffff" stroke="#7e7e7e" stroke-width="0.7"/>
<rect x="405.875" y="56.800" width="6.125" height="5.900" fill="#f3cdd4" stroke="#7e7e7e" stroke-width="0.7"/>
<rect x="412.000" y="56.800" width="6.125" height="5.900" fill="#ffffff" stroke="#7e7e7e" stroke-width="0.7"/>
<rect x="418.125" y="56.800" width="6.125" height="5.900" fill="#ffffff" stroke="#7e7e7e" stroke-width="0.7"/>
<rect x="424.250" y="56.800" width="6.125" height="5.900" fill="#ffffff" stroke="#7e7e7e" stroke-width="0.7"/>
<rect x="430.375" y="56.800" width="6.125" height="5.900" fill="#8dc2ea" stroke="#7e7e7e" stroke-width="0.7"/>
<rect x="436.500" y="56.800" width="6.125" height="5.900" fill="#ffffff" stroke="#7e7e7e" stroke-width="0.7"/>
<rect x="442.625" y="56.800" width="6.125" height="5.900" fill="#f3cdd4" stroke="#7e7e7e" stroke-width="0.7"/>
<rect x="448.750" y="56.800" width="6.125" height="5.900" fill="#ffffff" stroke="#7e7e7e" stroke-width="0.7"/>
<rect x="454.875" y="56.800" width="6.125" height="5.900" fill="#ffffff" stroke="#7e7e7e" stroke-width="0.7"/>
<rect x="461.000" y="56.800" width="6.125" height="5.900" fill="#ffffff" stroke="#7e7e7e" stroke-width="0.7"/>
<rect x="467.125" y="56.800" width="6.125" height="5.900" fill="#ffffff" stroke="#7e7e7e" stroke-width="0.7"/>
<rect x="473.250" y="56.800" width="6.125" height="5.900" fill="#ffffff" stroke="#7e7e7e" stroke-width="0.7"/>
<rect x="479.375" y="56.800" width="6.125" height="5.900" fill="#ffffff" stroke="#7e7e7e" stroke-width="0.7"/>
<rect x="326.250" y="62.700" width="6.125" height="5.900" fill="#ffffff" stroke="#7e7e7e" stroke-width="0.7"/>
<rect x="332.375" y="62.700" width="6.125" height="5.900" fill="#c1def4" stroke="#7e7e7e" stroke-width="0.7"/>
<rect x="338.500" y="62.700" width="6.125" height="5.900" fill="#ffffff" stroke="#7e7e7e" stroke-width="0.7"/>
<rect x="344.625" y="62.700" width="6.125" height="5.900" fill="#ffffff" stroke="#7e7e7e" stroke-width="0.7"/>
<rect x="350.750" y="62.700" width="6.125" height="5.900" fill="#ffffff" stroke="#7e7e7e" stroke-width="0.7"/>
<rect x="356.875" y="62.700" width="6.125" height="5.900" fill="#ffffff" stroke="#7e7e7e" stroke-width="0.7"/>
<rect x="363.000" y="62.700" width="6.125" height="5.900" fill="#a6cff1" stroke="#7e7e7e" stroke-width="0.7"/>
<rect x="369.125" y="62.700" width="6.125" height="5.900" fill="#ffffff" stroke="#7e7e7e" stroke-width="0.7"/>
<rect x="375.250" y="62.700" width="6.125" height="5.900" fill="#ffffff" stroke="#7e7e7e" stroke-width="0.7"/>
<rect x="381.375" y="62.700" width="6.125" height="5.900" fill="#ffffff" stroke="#7e7e7e" stroke-width="0.7"/>
<rect x="387.500" y="62.700" width="6.125" height="5.900" fill="#c1def4" stroke="#7e7e7e" stroke-width="0.7"/>
<rect x="393.625" y="62.700" width="6.125" height="5.900" fill="#ffffff" stroke="#7e7e7e" stroke-width="0.7"/>
<rect x="399.750" y="62.700" width="6.125" height="5.900" fill="#ffffff" stroke="#7e7e7e" stroke-width="0.7"/>
<rect x="405.875" y="62.700" width="6.125" height="5.900" fill="#ffffff" stroke="#7e7e7e" stroke-width="0.7"/>
<rect x="412.000" y="62.700" width="6.125" height="5.900" fill="#ffffff" stroke="#7e7e7e" stroke-width="0.7"/>
<rect x="418.125" y="62.700" width="6.125" height="5.900" fill="#ffffff" stroke="#7e7e7e" stroke-width="0.7"/>
<rect x="424.250" y="62.700" width="6.125" height="5.900" fill="#ffffff" stroke="#7e7e7e" stroke-width="0.7"/>
<rect x="430.375" y="62.700" width="6.125" height="5.900" fill="#ffffff" stroke="#7e7e7e" stroke-width="0.7"/>
<rect x="436.500" y="62.700" width="6.125" height="5.900" fill="#8dc2ea" stroke="#7e7e7e" stroke-width="0.7"/>
<rect x="442.625" y="62.700" width="6.125" height="5.900" fill="#ffffff" stroke="#7e7e7e" stroke-width="0.7"/>
<rect x="448.750" y="62.700" width="6.125" height="5.900" fill="#ffffff" stroke="#7e7e7e" stroke-width="0.7"/>
<rect x="454.875" y="62.700" width="6.125" height="5.900" fill="#ffffff" stroke="#7e7e7e" stroke-width="0.7"/>
<rect x="461.000" y="62.700" width="6.125" height="5.900" fill="#ffffff" stroke="#7e7e7e" stroke-width="0.7"/>
<rect x="467.125" y="62.700" width="6.125" height="5.900" fill="#ffffff" stroke="#7e7e7e" stroke-width="0.7"/>
<rect x="473.250" y="62.700" width="6.125" height="5.900" fill="#f3cdd4" stroke="#7e7e7e" stroke-width="0.7"/>
<rect x="479.375" y="62.700" width="6.125" height="5.900" fill="#ffffff" stroke="#7e7e7e" stroke-width="0.7"/>
<rect x="332.375" y="68.600" width="6.125" height="5.900" fill="#ffffff" stroke="#7e7e7e" stroke-width="0.7"/>
<rect x="338.500" y="68.600" width="6.125" height="5.900" fill="#ffffff" stroke="#7e7e7e" stroke-width="0.7"/>
<rect x="344.625" y="68.600" width="6.125" height="5.900" fill="#ffffff" stroke="#7e7e7e" stroke-width="0.7"/>
<rect x="350.750" y="68.600" width="6.125" height="5.900" fill="#ffffff" stroke="#7e7e7e" stroke-width="0.7"/>
<rect x="356.875" y="68.600" width="6.125" height="5.900" fill="#ffffff" stroke="#7e7e7e" stroke-width="0.7"/>
<rect x="363.000" y="68.600" width="6.125" height="5.900" fill="#ffffff" stroke="#7e7e7e" stroke-width="0.7"/>
<rect x="369.125" y="68.600" width="6.125" height="5.900" fill="#ffffff" stroke="#7e7e7e" stroke-width="0.7"/>
<rect x="375.250" y="68.600" width="6.125" height="5.900" fill="#ffffff" stroke="#7e7e7e" stroke-width="0.7"/>
<rect x="381.375" y="68.600" width="6.125" height="5.900" fill="#ffffff" stroke="#7e7e7e" stroke-width="0.7"/>
<rect x="387.500" y="68.600" width="6.125" height="5.900" fill="#ffffff" stroke="#7e7e7e" stroke-width="0.7"/>
<rect x="393.625" y="68.600" width="6.125" height="5.900" fill="#ffffff" stroke="#7e7e7e" stroke-width="0.7"/>
<rect x="399.750" y="68.600" width="6.125" height="5.900" fill="#ffffff" stroke="#7e7e7e" stroke-width="0.7"/>
<rect x="405.875" y="68.600" width="6.125" height="5.900" fill="#ffffff" stroke="#7e7e7e" stroke-width="0.7"/>
<rect x="412.000" y="68.600" width="6.125" height="5.900" fill="#ffffff" stroke="#7e7e7e" stroke-width="0.7"/>
<rect x="418.125" y="68.600" width="6.125" height="5.900" fill="#ffffff" stroke="#7e7e7e" stroke-width="0.7"/>
<rect x="424.250" y="68.600" width="6.125" height="5.900" fill="#ffffff" stroke="#7e7e7e" stroke-width="0.7"/>
<rect x="430.375" y="68.600" width="6.125" height="5.900" fill="#ffffff" stroke="#7e7e7e" stroke-width="0.7"/>
<rect x="436.500" y="68.600" width="6.125" height="5.900" fill="#ffffff" stroke="#7e7e7e" stroke-width="0.7"/>
<rect x="442.625" y="68.600" width="6.125" height="5.900" fill="#ffffff" stroke="#7e7e7e" stroke-width="0.7"/>
<rect x="448.750" y="68.600" width="6.125" height="5.900" fill="#ffffff" stroke="#7e7e7e" stroke-width="0.7"/>
<rect x="454.875" y="68.600" width="6.125" height="5.900" fill="#ffffff" stroke="#7e7e7e" stroke-width="0.7"/>
<rect x="461.000" y="68.600" width="6.125" height="5.900" fill="#ffffff" stroke="#7e7e7e" stroke-width="0.7"/>
<rect x="467.125" y="68.600" width="6.125" height="5.900" fill="#ffffff" stroke="#7e7e7e" stroke-width="0.7"/>
<rect x="473.250" y="68.600" width="6.125" height="5.900" fill="#ffffff" stroke="#7e7e7e" stroke-width="0.7"/>
<rect x="479.375" y="68.600" width="6.125" height="5.900" fill="#ffffff" stroke="#7e7e7e" stroke-width="0.7"/>
<rect x="338.500" y="74.500" width="6.125" height="5.900" fill="#ffffff" stroke="#7e7e7e" stroke-width="0.7"/>
<rect x="344.625" y="74.500" width="6.125" height="5.900" fill="#ffffff" stroke="#7e7e7e" stroke-width="0.7"/>
<rect x="350.750" y="74.500" width="6.125" height="5.900" fill="#ffffff" stroke="#7e7e7e" stroke-width="0.7"/>
<rect x="356.875" y="74.500" width="6.125" height="5.900" fill="#ffffff" stroke="#7e7e7e" stroke-width="0.7"/>
<rect x="363.000" y="74.500" width="6.125" height="5.900" fill="#ffffff" stroke="#7e7e7e" stroke-width="0.7"/>
<rect x="369.125" y="74.500" width="6.125" height="5.900" fill="#ffffff" stroke="#7e7e7e" stroke-width="0.7"/>
<rect x="375.250" y="74.500" width="6.125" height="5.900" fill="#ffffff" stroke="#7e7e7e" stroke-width="0.7"/>
<rect x="381.375" y="74.500" width="6.125" height="5.900" fill="#ffffff" stroke="#7e7e7e" stroke-width="0.7"/>
<rect x="387.500" y="74.500" width="6.125" height="5.900" fill="#ffffff" stroke="#7e7e7e" stroke-width="0.7"/>
<rect x="393.625" y="74.500" width="6.125" height="5.900" fill="#ffffff" stroke="#7e7e7e" stroke-width="0.7"/>
<rect x="399.750" y="74.500" width="6.125" height="5.900" fill="#ffffff" stroke="#7e7e7e" stroke-width="0.7"/>
<rect x="405.875" y="74.500" width="6.125" height="5.900" fill="#ffffff" stroke="#7e7e7e" stroke-width="0.7"/>
<rect x="412.000" y="74.500" width="6.125" height="5.900" fill="#ffffff" stroke="#7e7e7e" stroke-width="0.7"/>
<rect x="418.125" y="74.500" width="6.125" height="5.900" fill="#ffffff" stroke="#7e7e7e" stroke-width="0.7"/>
<rect x="424.250" y="74.500" width="6.125" height="5.900" fill="#ffffff" stroke="#7e7e7e" stroke-width="0.7"/>
<rect x="430.375" y="74.500" width="6.125" height="5.900" fill="#ffffff" stroke="#7e7e7e" stroke-width="0.7"/>
<rect x="436.500" y="74.500" width="6.125" height="5.900" fill="#ffffff" stroke="#7e7e7e" stroke-width="0.7"/>
<rect x="442.625" y="74.500" width="6.125" height="5.900" fill="#f3cdd4" stroke="#7e7e7e" stroke-width="0.7"/>
<rect x="448.750" y="74.500" width="6.125" height="5.900" fill="#ffffff" stroke="#7e7e7e" stroke-width="0.7"/>
<rect x="454.875" y="74.500" width="6.125" height="5.900" fill="#ffffff" stroke="#7e7e7e" stroke-width="0.7"/>
<rect x="461.000" y="74.500" width="6.125" height="5.900" fill="#ffffff" stroke="#7e7e7e" stroke-width="0.7"/>
<rect x="467.125" y="74.500" width="6.125" height="5.900" fill="#f3cdd4" stroke="#7e7e7e" stroke-width="0.7"/>
<rect x="473.250" y="74.500" width="6.125" height="5.900" fill="#f3cdd4" stroke="#7e7e7e" stroke-width="0.7"/>
<rect x="479.375" y="74.500" width="6.125" height="5.900" fill="#ffffff" stroke="#7e7e7e" stroke-width="0.7"/>
<rect x="344.625" y="80.400" width="6.125" height="5.900" fill="#ffffff" stroke="#7e7e7e" stroke-width="0.7"/>
<rect x="350.750" y="80.400" width="6.125" height="5.900" fill="#ffffff" stroke="#7e7e7e" stroke-width="0.7"/>
<rect x="356.875" y="80.400" width="6.125" height="5.900" fill="#ffffff" stroke="#7e7e7e" stroke-width="0.7"/>
<rect x="363.000" y="80.400" width="6.125" height="5.900" fill="#8dc2ea" stroke="#7e7e7e" stroke-width="0.7"/>
<rect x="369.125" y="80.400" width="6.125" height="5.900" fill="#ffffff" stroke="#7e7e7e" stroke-width="0.7"/>
<rect x="375.250" y="80.400" width="6.125" height="5.900" fill="#ffffff" stroke="#7e7e7e" stroke-width="0.7"/>
<rect x="381.375" y="80.400" width="6.125" height="5.900" fill="#ffffff" stroke="#7e7e7e" stroke-width="0.7"/>
<rect x="387.500" y="80.400" width="6.125" height="5.900" fill="#ffffff" stroke="#7e7e7e" stroke-width="0.7"/>
<rect x="393.625" y="80.400" width="6.125" height="5.900" fill="#ffffff" stroke="#7e7e7e" stroke-width="0.7"/>
<rect x="399.750" y="80.400" width="6.125" height="5.900" fill="#ffffff" stroke="#7e7e7e" stroke-width="0.7"/>
<rect x="405.875" y="80.400" width="6.125" height="5.900" fill="#ffffff" stroke="#7e7e7e" stroke-width="0.7"/>
<rect x="412.000" y="80.400" width="6.125" height="5.900" fill="#ffffff" stroke="#7e7e7e" stroke-width="0.7"/>
<rect x="418.125" y="80.400" width="6.125" height="5.900" fill="#ffffff" stroke="#7e7e7e" stroke-width="0.7"/>
<rect x="424.250" y="80.400" width="6.125" height="5.900" fill="#ffffff" stroke="#7e7e7e" stroke-width="0.7"/>
<rect x="430.375" y="80.400" width="6.125" height="5.900" fill="#ffffff" stroke="#7e7e7e" stroke-width="0.7"/>
<rect x="436.500" y="80.400" width="6.125" height="5.900" fill="#ffffff" stroke="#7e7e7e" stroke-width="0.7"/>
<rect x="442.625" y="80.400" width="6.125" height="5.900" fill="#c1def4" stroke="#7e7e7e" stroke-width="0.7"/>
<rect x="448.750" y="80.400" width="6.125" height="5.900" fill="#ffffff" stroke="#7e7e7e" stroke-width="0.7"/>
<rect x="454.875" y="80.400" width="6.125" height="5.900" fill="#ffffff" stroke="#7e7e7e" stroke-width="0.7"/>
<rect x="461.000" y="80.400" width="6.125" height="5.900" fill="#ffffff" stroke="#7e7e7e" stroke-width="0.7"/>
<rect x="467.125" y="80.400" width="6.125" height="5.900" fill="#ffffff" stroke="#7e7e7e" stroke-width="0.7"/>
<rect x="473.250" y="80.400" width="6.125" height="5.900" fill="#ffffff" stroke="#7e7e7e" stroke-width="0.7"/>
<rect x="479.375" y="80.400" width="6.125" height="5.900" fill="#f3cdd4" stroke="#7e7e7e" stroke-width="0.7"/>
<rect x="350.750" y="86.300" width="6.125" height="5.900" fill="#ffffff" stroke="#7e7e7e" stroke-width="0.7"/>
<rect x="356.875" y="86.300" width="6.125" height="5.900" fill="#ffffff" stroke="#7e7e7e" stroke-width="0.7"/>
<rect x="363.000" y="86.300" width="6.125" height="5.900" fill="#ffffff" stroke="#7e7e7e" stroke-width="0.7"/>
<rect x="369.125" y="86.300" width="6.125" height="5.900" fill="#ffffff" stroke="#7e7e7e" stroke-width="0.7"/>
<rect x="375.250" y="86.300" width="6.125" height="5.900" fill="#ffffff" stroke="#7e7e7e" stroke-width="0.7"/>
<rect x="381.375" y="86.300" width="6.125" height="5.900" fill="#c1def4" stroke="#7e7e7e" stroke-width="0.7"/>
<rect x="387.500" y="86.300" width="6.125" height="5.900" fill="#ffffff" stroke="#7e7e7e" stroke-width="0.7"/>
<rect x="393.625" y="86.300" width="6.125" height="5.900" fill="#ffffff" stroke="#7e7e7e" stroke-width="0.7"/>
<rect x="399.750" y="86.300" width="6.125" height="5.900" fill="#ffffff" stroke="#7e7e7e" stroke-width="0.7"/>
<rect x="405.875" y="86.300" width="6.125" height="5.900" fill="#ffffff" stroke="#7e7e7e" stroke-width="0.7"/>
<rect x="412.000" y="86.300" width="6.125" height="5.900" fill="#ffffff" stroke="#7e7e7e" stroke-width="0.7"/>
<rect x="418.125" y="86.300" width="6.125" height="5.900" fill="#ffffff" stroke="#7e7e7e" stroke-width="0.7"/>
<rect x="424.250" y="86.300" width="6.125" height="5.900" fill="#ffffff" stroke="#7e7e7e" stroke-width="0.7"/>
<rect x="430.375" y="86.300" width="6.125" height="5.900" fill="#ffffff" stroke="#7e7e7e" stroke-width="0.7"/>
<rect x="436.500" y="86.300" width="6.125" height="5.900" fill="#ffffff" stroke="#7e7e7e" stroke-width="0.7"/>
<rect x="442.625" y="86.300" width="6.125" height="5.900" fill="#ffffff" stroke="#7e7e7e" stroke-width="0.7"/>
<rect x="448.750" y="86.300" width="6.125" height="5.900" fill="#ffffff" stroke="#7e7e7e" stroke-width="0.7"/>
<rect x="454.875" y="86.300" width="6.125" height="5.900" fill="#ffffff" stroke="#7e7e7e" stroke-width="0.7"/>
<rect x="461.000" y="86.300" width="6.125" height="5.900" fill="#ffffff" stroke="#7e7e7e" stroke-width="0.7"/>
<rect x="467.125" y="86.300" width="6.125" height="5.900" fill="#c1def4" stroke="#7e7e7e" stroke-width="0.7"/>
<rect x="473.250" y="86.300" width="6.125" height="5.900" fill="#ffffff" stroke="#7e7e7e" stroke-width="0.7"/>
<rect x="479.375" y="86.300" width="6.125" height="5.900" fill="#ffffff" stroke="#7e7e7e" stroke-width="0.7"/>
<rect x="356.875" y="92.200" width="6.125" height="5.900" fill="#ffffff" stroke="#7e7e7e" stroke-width="0.7"/>
<rect x="363.000" y="92.200" width="6.125" height="5.900" fill="#ffffff" stroke="#7e7e7e" stroke-width="0.7"/>
<rect x="369.125" y="92.200" width="6.125" height="5.900" fill="#ffffff" stroke="#7e7e7e" stroke-width="0.7"/>
<rect x="375.250" y="92.200" width="6.125" height="5.900" fill="#ffffff" stroke="#7e7e7e" stroke-width="0.7"/>
<rect x="381.375" y="92.200" width="6.125" height="5.900" fill="#ffffff" stroke="#7e7e7e" stroke-width="0.7"/>
<rect x="387.500" y="92.200" width="6.125" height="5.900" fill="#ffffff" stroke="#7e7e7e" stroke-width="0.7"/>
<rect x="393.625" y="92.200" width="6.125" height="5.900" fill="#ffffff" stroke="#7e7e7e" stroke-width="0.7"/>
<rect x="399.750" y="92.200" width="6.125" height="5.900" fill="#c1def4" stroke="#7e7e7e" stroke-width="0.7"/>
<rect x="405.875" y="92.200" width="6.125" height="5.900" fill="#ffffff" stroke="#7e7e7e" stroke-width="0.7"/>
<rect x="412.000" y="92.200" width="6.125" height="5.900" fill="#ffffff" stroke="#7e7e7e" stroke-width="0.7"/>
<rect x="418.125" y="92.200" width="6.125" height="5.900" fill="#ffffff" stroke="#7e7e7e" stroke-width="0.7"/>
<rect x="424.250" y="92.200" width="6.125" height="5.900" fill="#ffffff" stroke="#7e7e7e" stroke-width="0.7"/>
<rect x="430.375" y="92.200" width="6.125" height="5.900" fill="#f3cdd4" stroke="#7e7e7e" stroke-width="0.7"/>
<rect x="436.500" y="92.200" width="6.125" height="5.900" fill="#ffffff" stroke="#7e7e7e" stroke-width="0.7"/>
<rect x="442.625" y="92.200" width="6.125" height="5.900" fill="#f3cdd4" stroke="#7e7e7e" stroke-width="0.7"/>
<rect x="448.750" y="92.200" width="6.125" height="5.900" fill="#ffffff" stroke="#7e7e7e" stroke-width="0.7"/>
<rect x="454.875" y="92.200" width="6.125" height="5.900" fill="#ffffff" stroke="#7e7e7e" stroke-width="0.7"/>
<rect x="461.000" y="92.200" width="6.125" height="5.900" fill="#ffffff" stroke="#7e7e7e" stroke-width="0.7"/>
<rect x="467.125" y="92.200" width="6.125" height="5.900" fill="#c1def4" stroke="#7e7e7e" stroke-width="0.7"/>
<rect x="473.250" y="92.200" width="6.125" height="5.900" fill="#ffffff" stroke="#7e7e7e" stroke-width="0.7"/>
<rect x="479.375" y="92.200" width="6.125" height="5.900" fill="#ffffff" stroke="#7e7e7e" stroke-width="0.7"/>
<rect x="363.000" y="98.100" width="6.125" height="5.900" fill="#c1def4" stroke="#7e7e7e" stroke-width="0.7"/>
<rect x="369.125" y="98.100" width="6.125" height="5.900" fill="#ffffff" stroke="#7e7e7e" stroke-width="0.7"/>
<rect x="375.250" y="98.100" width="6.125" height="5.900" fill="#ffffff" stroke="#7e7e7e" stroke-width="0.7"/>
<rect x="381.375" y="98.100" width="6.125" height="5.900" fill="#ffffff" stroke="#7e7e7e" stroke-width="0.7"/>
<rect x="387.500" y="98.100" width="6.125" height="5.900" fill="#ffffff" stroke="#7e7e7e" stroke-width="0.7"/>
<rect x="393.625" y="98.100" width="6.125" height="5.900" fill="#ffffff" stroke="#7e7e7e" stroke-width="0.7"/>
<rect x="399.750" y="98.100" width="6.125" height="5.900" fill="#ffffff" stroke="#7e7e7e" stroke-width="0.7"/>
<rect x="405.875" y="98.100" width="6.125" height="5.900" fill="#ffffff" stroke="#7e7e7e" stroke-width="0.7"/>
<rect x="412.000" y="98.100" width="6.125" height="5.900" fill="#ffffff" stroke="#7e7e7e" stroke-width="0.7"/>
<rect x="418.125" y="98.100" width="6.125" height="5.900" fill="#ffffff" stroke="#7e7e7e" stroke-width="0.7"/>
<rect x="424.250" y="98.100" width="6.125" height="5.900" fill="#ffffff" stroke="#7e7e7e" stroke-width="0.7"/>
<rect x="430.375" y="98.100" width="6.125" height="5.900" fill="#ffffff" stroke="#7e7e7e" stroke-width="0.7"/>
<rect x="436.500" y="98.100" width="6.125" height="5.900" fill="#ffffff" stroke="#7e7e7e" stroke-width="0.7"/>
<rect x="442.625" y="98.100" width="6.125" height="5.900" fill="#ffffff" stroke="#7e7e7e" stroke-width="0.7"/>
<rect x="448.750" y="98.100" width="6.125" height="5.900" fill="#ffffff" stroke="#7e7e7e" stroke-width="0.7"/>
<rect x="454.875" y="98.100" width="6.125" height="5.900" fill="#ffffff" stroke="#7e7e7e" stroke-width="0.7"/>
<rect x="461.000" y="98.100" width="6.125" height="5.900" fill="#ffffff" stroke="#7e7e7e" stroke-width="0.7"/>
<rect x="467.125" y="98.100" width="6.125" height="5.900" fill="#ffffff" stroke="#7e7e7e" stroke-width="0.7"/>
<rect x="473.250" y="98.100" width="6.125" height="5.900" fill="#ffffff" stroke="#7e7e7e" stroke-width="0.7"/>
<rect x="479.375" y="98.100" width="6.125" height="5.900" fill="#ffffff" stroke="#7e7e7e" stroke-width="0.7"/>
<rect x="369.125" y="104.000" width="6.125" height="5.900" fill="#ffffff" stroke="#7e7e7e" stroke-width="0.7"/>
<rect x="375.250" y="104.000" width="6.125" height="5.900" fill="#f3cdd4" stroke="#7e7e7e" stroke-width="0.7"/>
<rect x="381.375" y="104.000" width="6.125" height="5.900" fill="#ffffff" stroke="#7e7e7e" stroke-width="0.7"/>
<rect x="387.500" y="104.000" width="6.125" height="5.900" fill="#ffffff" stroke="#7e7e7e" stroke-width="0.7"/>
<rect x="393.625" y="104.000" width="6.125" height="5.900" fill="#ffffff" stroke="#7e7e7e" stroke-width="0.7"/>
<rect x="399.750" y="104.000" width="6.125" height="5.900" fill="#ffffff" stroke="#7e7e7e" stroke-width="0.7"/>
<rect x="405.875" y="104.000" width="6.125" height="5.900" fill="#ffffff" stroke="#7e7e7e" stroke-width="0.7"/>
<rect x="412.000" y="104.000" width="6.125" height="5.900" fill="#c1def4" stroke="#7e7e7e" stroke-width="0.7"/>
<rect x="418.125" y="104.000" width="6.125" height="5.900" fill="#ffffff" stroke="#7e7e7e" stroke-width="0.7"/>
<rect x="424.250" y="104.000" width="6.125" height="5.900" fill="#ffffff" stroke="#7e7e7e" stroke-width="0.7"/>
<rect x="430.375" y="104.000" width="6.125" height="5.900" fill="#ffffff" stroke="#7e7e7e" stroke-width="0.7"/>
<rect x="436.500" y="104.000" width="6.125" height="5.900" fill="#ffffff" stroke="#7e7e7e" stroke-width="0.7"/>
<rect x="442.625" y="104.000" width="6.125" height="5.900" fill="#ffffff" stroke="#7e7e7e" stroke-width="0.7"/>
<rect x="448.750" y="104.000" width="6.125" height="5.900" fill="#c1def4" stroke="#7e7e7e" stroke-width="0.7"/>
<rect x="454.875" y="104.000" width="6.125" height="5.900" fill="#c1def4" stroke="#7e7e7e" stroke-width="0.7"/>
<rect x="461.000" y="104.000" width="6.125" height="5.900" fill="#ffffff" stroke="#7e7e7e" stroke-width="0.7"/>
<rect x="467.125" y="104.000" width="6.125" height="5.900" fill="#ffffff" stroke="#7e7e7e" stroke-width="0.7"/>
<rect x="473.250" y="104.000" width="6.125" height="5.900" fill="#ffffff" stroke="#7e7e7e" stroke-width="0.7"/>
<rect x="479.375" y="104.000" width="6.125" height="5.900" fill="#ffffff" stroke="#7e7e7e" stroke-width="0.7"/>
<rect x="375.250" y="109.900" width="6.125" height="5.900" fill="#c1def4" stroke="#7e7e7e" stroke-width="0.7"/>
<rect x="381.375" y="109.900" width="6.125" height="5.900" fill="#ffffff" stroke="#7e7e7e" stroke-width="0.7"/>
<rect x="387.500" y="109.900" width="6.125" height="5.900" fill="#ffffff" stroke="#7e7e7e" stroke-width="0.7"/>
<rect x="393.625" y="109.900" width="6.125" height="5.900" fill="#f3cdd4" stroke="#7e7e7e" stroke-width="0.7"/>
<rect x="399.750" y="109.900" width="6.125" height="5.900" fill="#ffffff" stroke="#7e7e7e" stroke-width="0.7"/>
<rect x="405.875" y="109.900" width="6.125" height="5.900" fill="#ffffff" stroke="#7e7e7e" stroke-width="0.7"/>
<rect x="412.000" y="109.900" width="6.125" height="5.900" fill="#ffffff" stroke="#7e7e7e" stroke-width="0.7"/>
<rect x="418.125" y="109.900" width="6.125" height="5.900" fill="#ffffff" stroke="#7e7e7e" stroke-width="0.7"/>
<rect x="424.250" y="109.900" width="6.125" height="5.900" fill="#ffffff" stroke="#7e7e7e" stroke-width="0.7"/>
<rect x="430.375" y="109.900" width="6.125" height="5.900" fill="#ffffff" stroke="#7e7e7e" stroke-width="0.7"/>
<rect x="436.500" y="109.900" width="6.125" height="5.900" fill="#ffffff" stroke="#7e7e7e" stroke-width="0.7"/>
<rect x="442.625" y="109.900" width="6.125" height="5.900" fill="#ffffff" stroke="#7e7e7e" stroke-width="0.7"/>
<rect x="448.750" y="109.900" width="6.125" height="5.900" fill="#ffffff" stroke="#7e7e7e" stroke-width="0.7"/>
<rect x="454.875" y="109.900" width="6.125" height="5.900" fill="#f3cdd4" stroke="#7e7e7e" stroke-width="0.7"/>
<rect x="461.000" y="109.900" width="6.125" height="5.900" fill="#ffffff" stroke="#7e7e7e" stroke-width="0.7"/>
<rect x="467.125" y="109.900" width="6.125" height="5.900" fill="#ffffff" stroke="#7e7e7e" stroke-width="0.7"/>
<rect x="473.250" y="109.900" width="6.125" height="5.900" fill="#ffffff" stroke="#7e7e7e" stroke-width="0.7"/>
<rect x="479.375" y="109.900" width="6.125" height="5.900" fill="#c1def4" stroke="#7e7e7e" stroke-width="0.7"/>
<rect x="381.375" y="115.800" width="6.125" height="5.900" fill="#ffffff" stroke="#7e7e7e" stroke-width="0.7"/>
<rect x="387.500" y="115.800" width="6.125" height="5.900" fill="#ffffff" stroke="#7e7e7e" stroke-width="0.7"/>
<rect x="393.625" y="115.800" width="6.125" height="5.900" fill="#ffffff" stroke="#7e7e7e" stroke-width="0.7"/>
<rect x="399.750" y="115.800" width="6.125" height="5.900" fill="#ffffff" stroke="#7e7e7e" stroke-width="0.7"/>
<rect x="405.875" y="115.800" width="6.125" height="5.900" fill="#ffffff" stroke="#7e7e7e" stroke-width="0.7"/>
<rect x="412.000" y="115.800" width="6.125" height="5.900" fill="#ffffff" stroke="#7e7e7e" stroke-width="0.7"/>
<rect x="418.125" y="115.800" width="6.125" height="5.900" fill="#ffffff" stroke="#7e7e7e" stroke-width="0.7"/>
<rect x="424.250" y="115.800" width="6.125" height="5.900" fill="#ffffff" stroke="#7e7e7e" stroke-width="0.7"/>
<rect x="430.375" y="115.800" width="6.125" height="5.900" fill="#ffffff" stroke="#7e7e7e" stroke-width="0.7"/>
<rect x="436.500" y="115.800" width="6.125" height="5.900" fill="#ffffff" stroke="#7e7e7e" stroke-width="0.7"/>
<rect x="442.625" y="115.800" width="6.125" height="5.900" fill="#ffffff" stroke="#7e7e7e" stroke-width="0.7"/>
<rect x="448.750" y="115.800" width="6.125" height="5.900" fill="#ffffff" stroke="#7e7e7e" stroke-width="0.7"/>
<rect x="454.875" y="115.800" width="6.125" height="5.900" fill="#f3cdd4" stroke="#7e7e7e" stroke-width="0.7"/>
<rect x="461.000" y="115.800" width="6.125" height="5.900" fill="#ffffff" stroke="#7e7e7e" stroke-width="0.7"/>
<rect x="467.125" y="115.800" width="6.125" height="5.900" fill="#ffffff" stroke="#7e7e7e" stroke-width="0.7"/>
<rect x="473.250" y="115.800" width="6.125" height="5.900" fill="#ffffff" stroke="#7e7e7e" stroke-width="0.7"/>
<rect x="479.375" y="115.800" width="6.125" height="5.900" fill="#ffffff" stroke="#7e7e7e" stroke-width="0.7"/>
<rect x="387.500" y="121.700" width="6.125" height="5.900" fill="#ffffff" stroke="#7e7e7e" stroke-width="0.7"/>
<rect x="393.625" y="121.700" width="6.125" height="5.900" fill="#ffffff" stroke="#7e7e7e" stroke-width="0.7"/>
<rect x="399.750" y="121.700" width="6.125" height="5.900" fill="#ffffff" stroke="#7e7e7e" stroke-width="0.7"/>
<rect x="405.875" y="121.700" width="6.125" height="5.900" fill="#ffffff" stroke="#7e7e7e" stroke-width="0.7"/>
<rect x="412.000" y="121.700" width="6.125" height="5.900" fill="#c1def4" stroke="#7e7e7e" stroke-width="0.7"/>
<rect x="418.125" y="121.700" width="6.125" height="5.900" fill="#ffffff" stroke="#7e7e7e" stroke-width="0.7"/>
<rect x="424.250" y="121.700" width="6.125" height="5.900" fill="#ffffff" stroke="#7e7e7e" stroke-width="0.7"/>
<rect x="430.375" y="121.700" width="6.125" height="5.900" fill="#ffffff" stroke="#7e7e7e" stroke-width="0.7"/>
<rect x="436.500" y="121.700" width="6.125" height="5.900" fill="#ffffff" stroke="#7e7e7e" stroke-width="0.7"/>
<rect x="442.625" y="121.700" width="6.125" height="5.900" fill="#ffffff" stroke="#7e7e7e" stroke-width="0.7"/>
<rect x="448.750" y="121.700" width="6.125" height="5.900" fill="#8dc2ea" stroke="#7e7e7e" stroke-width="0.7"/>
<rect x="454.875" y="121.700" width="6.125" height="5.900" fill="#ffffff" stroke="#7e7e7e" stroke-width="0.7"/>
<rect x="461.000" y="121.700" width="6.125" height="5.900" fill="#ffffff" stroke="#7e7e7e" stroke-width="0.7"/>
<rect x="467.125" y="121.700" width="6.125" height="5.900" fill="#c1def4" stroke="#7e7e7e" stroke-width="0.7"/>
<rect x="473.250" y="121.700" width="6.125" height="5.900" fill="#ffffff" stroke="#7e7e7e" stroke-width="0.7"/>
<rect x="479.375" y="121.700" width="6.125" height="5.900" fill="#ffffff" stroke="#7e7e7e" stroke-width="0.7"/>
<rect x="393.625" y="127.600" width="6.125" height="5.900" fill="#f3cdd4" stroke="#7e7e7e" stroke-width="0.7"/>
<rect x="399.750" y="127.600" width="6.125" height="5.900" fill="#ffffff" stroke="#7e7e7e" stroke-width="0.7"/>
<rect x="405.875" y="127.600" width="6.125" height="5.900" fill="#ffffff" stroke="#7e7e7e" stroke-width="0.7"/>
<rect x="412.000" y="127.600" width="6.125" height="5.900" fill="#ffffff" stroke="#7e7e7e" stroke-width="0.7"/>
<rect x="418.125" y="127.600" width="6.125" height="5.900" fill="#ffffff" stroke="#7e7e7e" stroke-width="0.7"/>
<rect x="424.250" y="127.600" width="6.125" height="5.900" fill="#ffffff" stroke="#7e7e7e" stroke-width="0.7"/>
<rect x="430.375" y="127.600" width="6.125" height="5.900" fill="#ffffff" stroke="#7e7e7e" stroke-width="0.7"/>
<rect x="436.500" y="127.600" width="6.125" height="5.900" fill="#c1def4" stroke="#7e7e7e" stroke-width="0.7"/>
<rect x="442.625" y="127.600" width="6.125" height="5.900" fill="#ffffff" stroke="#7e7e7e" stroke-width="0.7"/>
<rect x="448.750" y="127.600" width="6.125" height="5.900" fill="#ffffff" stroke="#7e7e7e" stroke-width="0.7"/>
<rect x="454.875" y="127.600" width="6.125" height="5.900" fill="#ffffff" stroke="#7e7e7e" stroke-width="0.7"/>
<rect x="461.000" y="127.600" width="6.125" height="5.900" fill="#ffffff" stroke="#7e7e7e" stroke-width="0.7"/>
<rect x="467.125" y="127.600" width="6.125" height="5.900" fill="#ffffff" stroke="#7e7e7e" stroke-width="0.7"/>
<rect x="473.250" y="127.600" width="6.125" height="5.900" fill="#ffffff" stroke="#7e7e7e" stroke-width="0.7"/>
<rect x="479.375" y="127.600" width="6.125" height="5.900" fill="#c1def4" stroke="#7e7e7e" stroke-width="0.7"/>
<rect x="399.750" y="133.500" width="6.125" height="5.900" fill="#ffffff" stroke="#7e7e7e" stroke-width="0.7"/>
<rect x="405.875" y="133.500" width="6.125" height="5.900" fill="#ffffff" stroke="#7e7e7e" stroke-width="0.7"/>
<rect x="412.000" y="133.500" width="6.125" height="5.900" fill="#ffffff" stroke="#7e7e7e" stroke-width="0.7"/>
<rect x="418.125" y="133.500" width="6.125" height="5.900" fill="#c1def4" stroke="#7e7e7e" stroke-width="0.7"/>
<rect x="424.250" y="133.500" width="6.125" height="5.900" fill="#ffffff" stroke="#7e7e7e" stroke-width="0.7"/>
<rect x="430.375" y="133.500" width="6.125" height="5.900" fill="#ffffff" stroke="#7e7e7e" stroke-width="0.7"/>
<rect x="436.500" y="133.500" width="6.125" height="5.900" fill="#ffffff" stroke="#7e7e7e" stroke-width="0.7"/>
<rect x="442.625" y="133.500" width="6.125" height="5.900" fill="#f3cdd4" stroke="#7e7e7e" stroke-width="0.7"/>
<rect x="448.750" y="133.500" width="6.125" height="5.900" fill="#ffffff" stroke="#7e7e7e" stroke-width="0.7"/>
<rect x="454.875" y="133.500" width="6.125" height="5.900" fill="#ffffff" stroke="#7e7e7e" stroke-width="0.7"/>
<rect x="461.000" y="133.500" width="6.125" height="5.900" fill="#ffffff" stroke="#7e7e7e" stroke-width="0.7"/>
<rect x="467.125" y="133.500" width="6.125" height="5.900" fill="#ffffff" stroke="#7e7e7e" stroke-width="0.7"/>
<rect x="473.250" y="133.500" width="6.125" height="5.900" fill="#ffffff" stroke="#7e7e7e" stroke-width="0.7"/>
<rect x="479.375" y="133.500" width="6.125" height="5.900" fill="#c1def4" stroke="#7e7e7e" stroke-width="0.7"/>
<rect x="405.875" y="139.400" width="6.125" height="5.900" fill="#ffffff" stroke="#7e7e7e" stroke-width="0.7"/>
<rect x="412.000" y="139.400" width="6.125" height="5.900" fill="#ffffff" stroke="#7e7e7e" stroke-width="0.7"/>
<rect x="418.125" y="139.400" width="6.125" height="5.900" fill="#ffffff" stroke="#7e7e7e" stroke-width="0.7"/>
<rect x="424.250" y="139.400" width="6.125" height="5.900" fill="#ffffff" stroke="#7e7e7e" stroke-width="0.7"/>
<rect x="430.375" y="139.400" width="6.125" height="5.900" fill="#ffffff" stroke="#7e7e7e" stroke-width="0.7"/>
<rect x="436.500" y="139.400" width="6.125" height="5.900" fill="#ffffff" stroke="#7e7e7e" stroke-width="0.7"/>
<rect x="442.625" y="139.400" width="6.125" height="5.900" fill="#ffffff" stroke="#7e7e7e" stroke-width="0.7"/>
<rect x="448.750" y="139.400" width="6.125" height="5.900" fill="#ffffff" stroke="#7e7e7e" stroke-width="0.7"/>
<rect x="454.875" y="139.400" width="6.125" height="5.900" fill="#ffffff" stroke="#7e7e7e" stroke-width="0.7"/>
<rect x="461.000" y="139.400" width="6.125" height="5.900" fill="#ffffff" stroke="#7e7e7e" stroke-width="0.7"/>
<rect x="467.125" y="139.400" width="6.125" height="5.900" fill="#ffffff" stroke="#7e7e7e" stroke-width="0.7"/>
<rect x="473.250" y="139.400" width="6.125" height="5.900" fill="#c1def4" stroke="#7e7e7e" stroke-width="0.7"/>
<rect x="479.375" y="139.400" width="6.125" height="5.900" fill="#f3cdd4" stroke="#7e7e7e" stroke-width="0.7"/>
<rect x="412.000" y="145.300" width="6.125" height="5.900" fill="#ffffff" stroke="#7e7e7e" stroke-width="0.7"/>
<rect x="418.125" y="145.300" width="6.125" height="5.900" fill="#c1def4" stroke="#7e7e7e" stroke-width="0.7"/>
<rect x="424.250" y="145.300" width="6.125" height="5.900" fill="#ffffff" stroke="#7e7e7e" stroke-width="0.7"/>
<rect x="430.375" y="145.300" width="6.125" height="5.900" fill="#f3cdd4" stroke="#7e7e7e" stroke-width="0.7"/>
<rect x="436.500" y="145.300" width="6.125" height="5.900" fill="#ffffff" stroke="#7e7e7e" stroke-width="0.7"/>
<rect x="442.625" y="145.300" width="6.125" height="5.900" fill="#f3cdd4" stroke="#7e7e7e" stroke-width="0.7"/>
<rect x="448.750" y="145.300" width="6.125" height="5.900" fill="#ffffff" stroke="#7e7e7e" stroke-width="0.7"/>
<rect x="454.875" y="145.300" width="6.125" height="5.900" fill="#ffffff" stroke="#7e7e7e" stroke-width="0.7"/>
<rect x="461.000" y="145.300" width="6.125" height="5.900" fill="#ffffff" stroke="#7e7e7e" stroke-width="0.7"/>
<rect x="467.125" y="145.300" width="6.125" height="5.900" fill="#ffffff" stroke="#7e7e7e" stroke-width="0.7"/>
<rect x="473.250" y="145.300" width="6.125" height="5.900" fill="#c1def4" stroke="#7e7e7e" stroke-width="0.7"/>
<rect x="479.375" y="145.300" width="6.125" height="5.900" fill="#ffffff" stroke="#7e7e7e" stroke-width="0.7"/>
<rect x="418.125" y="151.200" width="6.125" height="5.900" fill="#ffffff" stroke="#7e7e7e" stroke-width="0.7"/>
<rect x="424.250" y="151.200" width="6.125" height="5.900" fill="#ffffff" stroke="#7e7e7e" stroke-width="0.7"/>
<rect x="430.375" y="151.200" width="6.125" height="5.900" fill="#ffffff" stroke="#7e7e7e" stroke-width="0.7"/>
<rect x="436.500" y="151.200" width="6.125" height="5.900" fill="#ffffff" stroke="#7e7e7e" stroke-width="0.7"/>
<rect x="442.625" y="151.200" width="6.125" height="5.900" fill="#ffffff" stroke="#7e7e7e" stroke-width="0.7"/>
<rect x="448.750" y="151.200" width="6.125" height="5.900" fill="#ffffff" stroke="#7e7e7e" stroke-width="0.7"/>
<rect x="454.875" y="151.200" width="6.125" height="5.900" fill="#ffffff" stroke="#7e7e7e" stroke-width="0.7"/>
<rect x="461.000" y="151.200" width="6.125" height="5.900" fill="#ffffff" stroke="#7e7e7e" stroke-width="0.7"/>
<rect x="467.125" y="151.200" width="6.125" height="5.900" fill="#ffffff" stroke="#7e7e7e" stroke-width="0.7"/>
<rect x="473.250" y="151.200" width="6.125" height="5.900" fill="#ffffff" stroke="#7e7e7e" stroke-width="0.7"/>
<rect x="479.375" y="151.200" width="6.125" height="5.900" fill="#ffffff" stroke="#7e7e7e" stroke-width="0.7"/>
<rect x="424.250" y="157.100" width="6.125" height="5.900" fill="#ffffff" stroke="#7e7e7e" stroke-width="0.7"/>
<rect x="430.375" y="157.100" width="6.125" height="5.900" fill="#ffffff" stroke="#7e7e7e" stroke-width="0.7"/>
<rect x="436.500" y="157.100" width="6.125" height="5.900" fill="#ffffff" stroke="#7e7e7e" stroke-width="0.7"/>
<rect x="442.625" y="157.100" width="6.125" height="5.900" fill="#f3cdd4" stroke="#7e7e7e" stroke-width="0.7"/>
<rect x="448.750" y="157.100" width="6.125" height="5.900" fill="#c1def4" stroke="#7e7e7e" stroke-width="0.7"/>
<rect x="454.875" y="157.100" width="6.125" height="5.900" fill="#ffffff" stroke="#7e7e7e" stroke-width="0.7"/>
<rect x="461.000" y="157.100" width="6.125" height="5.900" fill="#c1def4" stroke="#7e7e7e" stroke-width="0.7"/>
<rect x="467.125" y="157.100" width="6.125" height="5.900" fill="#c1def4" stroke="#7e7e7e" stroke-width="0.7"/>
<rect x="473.250" y="157.100" width="6.125" height="5.900" fill="#c1def4" stroke="#7e7e7e" stroke-width="0.7"/>
<rect x="479.375" y="157.100" width="6.125" height="5.900" fill="#c1def4" stroke="#7e7e7e" stroke-width="0.7"/>
<rect x="430.375" y="163.000" width="6.125" height="5.900" fill="#ffffff" stroke="#7e7e7e" stroke-width="0.7"/>
<rect x="436.500" y="163.000" width="6.125" height="5.900" fill="#ffffff" stroke="#7e7e7e" stroke-width="0.7"/>
<rect x="442.625" y="163.000" width="6.125" height="5.900" fill="#ffffff" stroke="#7e7e7e" stroke-width="0.7"/>
<rect x="448.750" y="163.000" width="6.125" height="5.900" fill="#ffffff" stroke="#7e7e7e" stroke-width="0.7"/>
<rect x="454.875" y="163.000" width="6.125" height="5.900" fill="#c1def4" stroke="#7e7e7e" stroke-width="0.7"/>
<rect x="461.000" y="163.000" width="6.125" height="5.900" fill="#ffffff" stroke="#7e7e7e" stroke-width="0.7"/>
<rect x="467.125" y="163.000" width="6.125" height="5.900" fill="#f3cdd4" stroke="#7e7e7e" stroke-width="0.7"/>
<rect x="473.250" y="163.000" width="6.125" height="5.900" fill="#ffffff" stroke="#7e7e7e" stroke-width="0.7"/>
<rect x="479.375" y="163.000" width="6.125" height="5.900" fill="#ffffff" stroke="#7e7e7e" stroke-width="0.7"/>
<rect x="436.500" y="168.900" width="6.125" height="5.900" fill="#ffffff" stroke="#7e7e7e" stroke-width="0.7"/>
<rect x="442.625" y="168.900" width="6.125" height="5.900" fill="#ffffff" stroke="#7e7e7e" stroke-width="0.7"/>
<rect x="448.750" y="168.900" width="6.125" height="5.900" fill="#ffffff" stroke="#7e7e7e" stroke-width="0.7"/>
<rect x="454.875" y="168.900" width="6.125" height="5.900" fill="#ffffff" stroke="#7e7e7e" stroke-width="0.7"/>
<rect x="461.000" y="168.900" width="6.125" height="5.900" fill="#ffffff" stroke="#7e7e7e" stroke-width="0.7"/>
<rect x="467.125" y="168.900" width="6.125" height="5.900" fill="#ffffff" stroke="#7e7e7e" stroke-width="0.7"/>
<rect x="473.250" y="168.900" width="6.125" height="5.900" fill="#ffffff" stroke="#7e7e7e" stroke-width="0.7"/>
<rect x="479.375" y="168.900" width="6.125" height="5.900" fill="#c1def4" stroke="#7e7e7e" stroke-width="0.7"/>
<rect x="442.625" y="174.800" width="6.125" height="5.900" fill="#ffffff" stroke="#7e7e7e" stroke-width="0.7"/>
<rect x="448.750" y="174.800" width="6.125" height="5.900" fill="#ffffff" stroke="#7e7e7e" stroke-width="0.7"/>
<rect x="454.875" y="174.800" width="6.125" height="5.900" fill="#ffffff" stroke="#7e7e7e" stroke-width="0.7"/>
<rect x="461.000" y="174.800" width="6.125" height="5.900" fill="#ffffff" stroke="#7e7e7e" stroke-width="0.7"/>
<rect x="467.125" y="174.800" width="6.125" height="5.900" fill="#ffffff" stroke="#7e7e7e" stroke-width="0.7"/>
<rect x="473.250" y="174.800" width="6.125" height="5.900" fill="#ffffff" stroke="#7e7e7e" stroke-width="0.7"/>
<rect x="479.375" y="174.800" width="6.125" height="5.900" fill="#ffffff" stroke="#7e7e7e" stroke-width="0.7"/>
<rect x="448.750" y="180.700" width="6.125" height="5.900" fill="#ffffff" stroke="#7e7e7e" stroke-width="0.7"/>
<rect x="454.875" y="180.700" width="6.125" height="5.900" fill="#ffffff" stroke="#7e7e7e" stroke-width="0.7"/>
<rect x="461.000" y="180.700" width="6.125" height="5.900" fill="#ffffff" stroke="#7e7e7e" stroke-width="0.7"/>
<rect x="467.125" y="180.700" width="6.125" height="5.900" fill="#ffffff" stroke="#7e7e7e" stroke-width="0.7"/>
<rect x="473.250" y="180.700" width="6.125" height="5.900" fill="#ffffff" stroke="#7e7e7e" stroke-width="0.7"/>
<rect x="479.375" y="180.700" width="6.125" height="5.900" fill="#f3cdd4" stroke="#7e7e7e" stroke-width="0.7"/>
<rect x="454.875" y="186.600" width="6.125" height="5.900" fill="#ffffff" stroke="#7e7e7e" stroke-width="0.7"/>
<rect x="461.000" y="186.600" width="6.125" height="5.900" fill="#8dc2ea" stroke="#7e7e7e" stroke-width="0.7"/>
<rect x="467.125" y="186.600" width="6.125" height="5.900" fill="#ffffff" stroke="#7e7e7e" stroke-width="0.7"/>
<rect x="473.250" y="186.600" width="6.125" height="5.900" fill="#ffffff" stroke="#7e7e7e" stroke-width="0.7"/>
<rect x="479.375" y="186.600" width="6.125" height="5.900" fill="#ffffff" stroke="#7e7e7e" stroke-width="0.7"/>
<rect x="461.000" y="192.500" width="6.125" height="5.900" fill="#ffffff" stroke="#7e7e7e" stroke-width="0.7"/>
<rect x="467.125" y="192.500" width="6.125" height="5.900" fill="#ffffff" stroke="#7e7e7e" stroke-width="0.7"/>
<rect x="473.250" y="192.500" width="6.125" height="5.900" fill="#ffffff" stroke="#7e7e7e" stroke-width="0.7"/>
<rect x="479.375" y="192.500" width="6.125" height="5.900" fill="#ffffff" stroke="#7e7e7e" stroke-width="0.7"/>
<rect x="467.125" y="198.400" width="6.125" height="5.900" fill="#f3cdd4" stroke="#7e7e7e" stroke-width="0.7"/>
<rect x="473.250" y="198.400" width="6.125" height="5.900" fill="#8dc2ea" stroke="#7e7e7e" stroke-width="0.7"/>
<rect x="479.375" y="198.400" width="6.125" height="5.900" fill="#ffffff" stroke="#7e7e7e" stroke-width="0.7"/>
<rect x="473.250" y="204.300" width="6.125" height="5.900" fill="#e39aa5" stroke="#7e7e7e" stroke-width="0.7"/>
<rect x="479.375" y="204.300" width="6.125" height="5.900" fill="#ffffff" stroke="#7e7e7e" stroke-width="0.7"/>
<rect x="479.375" y="210.200" width="6.125" height="5.900" fill="#ffffff" stroke="#7e7e7e" stroke-width="0.7"/>
<rect x="289.500" y="33.200" width="6.125" height="5.900" fill="#112a3d"/>
<rect x="295.625" y="39.100" width="6.125" height="5.900" fill="#112a3d"/>
<rect x="301.750" y="45.000" width="6.125" height="5.900" fill="#112a3d"/>
<rect x="307.875" y="50.900" width="6.125" height="5.900" fill="#112a3d"/>
<rect x="314.000" y="56.800" width="6.125" height="5.900" fill="#112a3d"/>
<rect x="320.125" y="62.700" width="6.125" height="5.900" fill="#112a3d"/>
<rect x="326.250" y="68.600" width="6.125" height="5.900" fill="#112a3d"/>
<rect x="332.375" y="74.500" width="6.125" height="5.900" fill="#112a3d"/>
<rect x="338.500" y="80.400" width="6.125" height="5.900" fill="#112a3d"/>
<rect x="344.625" y="86.300" width="6.125" height="5.900" fill="#112a3d"/>
<rect x="350.750" y="92.200" width="6.125" height="5.900" fill="#112a3d"/>
<rect x="356.875" y="98.100" width="6.125" height="5.900" fill="#112a3d"/>
<rect x="363.000" y="104.000" width="6.125" height="5.900" fill="#112a3d"/>
<rect x="369.125" y="109.900" width="6.125" height="5.900" fill="#112a3d"/>
<rect x="375.250" y="115.800" width="6.125" height="5.900" fill="#112a3d"/>
<rect x="381.375" y="121.700" width="6.125" height="5.900" fill="#112a3d"/>
<rect x="387.500" y="127.600" width="6.125" height="5.900" fill="#112a3d"/>
<rect x="393.625" y="133.500" width="6.125" height="5.900" fill="#112a3d"/>
<rect x="399.750" y="139.400" width="6.125" height="5.900" fill="#112a3d"/>
<rect x="405.875" y="145.300" width="6.125" height="5.900" fill="#112a3d"/>
<rect x="412.000" y="151.200" width="6.125" height="5.900" fill="#112a3d"/>
<rect x="418.125" y="157.100" width="6.125" height="5.900" fill="#112a3d"/>
<rect x="424.250" y="163.000" width="6.125" height="5.900" fill="#112a3d"/>
<rect x="430.375" y="168.900" width="6.125" height="5.900" fill="#112a3d"/>
<rect x="436.500" y="174.800" width="6.125" height="5.900" fill="#112a3d"/>
<rect x="442.625" y="180.700" width="6.125" height="5.900" fill="#112a3d"/>
<rect x="448.750" y="186.600" width="6.125" height="5.900" fill="#112a3d"/>
<rect x="454.875" y="192.500" width="6.125" height="5.900" fill="#112a3d"/>
<rect x="461.000" y="198.400" width="6.125" height="5.900" fill="#112a3d"/>
<rect x="467.125" y="204.300" width="6.125" height="5.900" fill="#112a3d"/>
<rect x="473.250" y="210.200" width="6.125" height="5.900" fill="#112a3d"/>
<rect x="479.375" y="216.100" width="6.125" height="5.900" fill="#112a3d"/>
<line x1="395.39" y1="59.75" x2="397.99" y2="59.75" stroke="#123" stroke-width="0.7"/>
<circle cx="433.44" cy="59.75" r="0.55" fill="#123"/>
<circle cx="451.81" cy="124.65" r="0.55" fill="#123"/>
<line x1="475.01" y1="201.35" x2="477.61" y2="201.35" stroke="#123" stroke-width="0.7"/>
<line x1="475.01" y1="207.25" x2="477.61" y2="207.25" stroke="#123" stroke-width="0.7"/>
<rect x="289.500" y="115.800" width="6.125" height="5.900" fill="#ffffff" stroke="#7e7e7e" stroke-width="0.7"/>
<rect x="289.500" y="121.700" width="6.125" height="5.900" fill="#ffffff" stroke="#7e7e7e" stroke-width="0.7"/>
<rect x="295.625" y="121.700" width="6.125" height="5.900" fill="#ffffff" stroke="#7e7e7e" stroke-width="0.7"/>
<rect x="289.500" y="127.600" width="6.125" height="5.900" fill="#ffffff" stroke="#7e7e7e" stroke-width="0.7"/>
<rect x="295.625" y="127.600" width="6.125" height="5.900" fill="#8dc2ea" stroke="#7e7e7e" stroke-width="0.7"/>
<rect x="301.750" y="127.600" width="6.125" height="5.900" fill="#ffffff" stroke="#7e7e7e" stroke-width="0.7"/>
<rect x="289.500" y="133.500" width="6.125" height="5.900" fill="#ffffff" stroke="#7e7e7e" stroke-width="0.7"/>
<rect x="295.625" y="133.500" width="6.125" height="5.900" fill="#ffffff" stroke="#7e7e7e" stroke-width="0.7"/>
<rect x="301.750" y="133.500" width="6.125" height="5.900" fill="#8dc2ea" stroke="#7e7e7e" stroke-width="0.7"/>
<rect x="307.875" y="133.500" width="6.125" height="5.900" fill="#c1def4" stroke="#7e7e7e" stroke-width="0.7"/>
<rect x="289.500" y="139.400" width="6.125" height="5.900" fill="#ffffff" stroke="#7e7e7e" stroke-width="0.7"/>
<rect x="295.625" y="139.400" width="6.125" height="5.900" fill="#ffffff" stroke="#7e7e7e" stroke-width="0.7"/>
<rect x="301.750" y="139.400" width="6.125" height="5.900" fill="#ffffff" stroke="#7e7e7e" stroke-width="0.7"/>
<rect x="307.875" y="139.400" width="6.125" height="5.900" fill="#e39aa5" stroke="#7e7e7e" stroke-width="0.7"/>
<rect x="314.000" y="139.400" width="6.125" height="5.900" fill="#ffffff" stroke="#7e7e7e" stroke-width="0.7"/>
<rect x="289.500" y="145.300" width="6.125" height="5.900" fill="#ffffff" stroke="#7e7e7e" stroke-width="0.7"/>
<rect x="295.625" y="145.300" width="6.125" height="5.900" fill="#ffffff" stroke="#7e7e7e" stroke-width="0.7"/>
<rect x="301.750" y="145.300" width="6.125" height="5.900" fill="#ffffff" stroke="#7e7e7e" stroke-width="0.7"/>
<rect x="307.875" y="145.300" width="6.125" height="5.900" fill="#ffffff" stroke="#7e7e7e" stroke-width="0.7"/>
<rect x="314.000" y="145.300" width="6.125" height="5.900" fill="#ffffff" stroke="#7e7e7e" stroke-width="0.7"/>
<rect x="320.125" y="145.300" width="6.125" height="5.900" fill="#ffffff" stroke="#7e7e7e" stroke-width="0.7"/>
<rect x="289.500" y="151.200" width="6.125" height="5.900" fill="#c1def4" stroke="#7e7e7e" stroke-width="0.7"/>
<rect x="295.625" y="151.200" width="6.125" height="5.900" fill="#f3cdd4" stroke="#7e7e7e" stroke-width="0.7"/>
<rect x="301.750" y="151.200" width="6.125" height="5.900" fill="#ffffff" stroke="#7e7e7e" stroke-width="0.7"/>
<rect x="307.875" y="151.200" width="6.125" height="5.900" fill="#ffffff" stroke="#7e7e7e" stroke-width="0.7"/>
<rect x="314.000" y="151.200" width="6.125" height="5.900" fill="#ffffff" stroke="#7e7e7e" stroke-width="0.7"/>
<rect x="320.125" y="151.200" width="6.125" height="5.900" fill="#f3cdd4" stroke="#7e7e7e" stroke-width="0.7"/>
<rect x="326.250" y="151.200" width="6.125" height="5.900" fill="#ffffff" stroke="#7e7e7e" stroke-width="0.7"/>
<rect x="289.500" y="157.100" width="6.125" height="5.900" fill="#ffffff" stroke="#7e7e7e" stroke-width="0.7"/>
<rect x="295.625" y="157.100" width="6.125" height="5.900" fill="#ffffff" stroke="#7e7e7e" stroke-width="0.7"/>
<rect x="301.750" y="157.100" width="6.125" height="5.900" fill="#f3cdd4" stroke="#7e7e7e" stroke-width="0.7"/>
<rect x="307.875" y="157.100" width="6.125" height="5.900" fill="#ffffff" stroke="#7e7e7e" stroke-width="0.7"/>
<rect x="314.000" y="157.100" width="6.125" height="5.900" fill="#ffffff" stroke="#7e7e7e" stroke-width="0.7"/>
<rect x="320.125" y="157.100" width="6.125" height="5.900" fill="#ffffff" stroke="#7e7e7e" stroke-width="0.7"/>
<rect x="326.250" y="157.100" width="6.125" height="5.900" fill="#ffffff" stroke="#7e7e7e" stroke-width="0.7"/>
<rect x="332.375" y="157.100" width="6.125" height="5.900" fill="#ffffff" stroke="#7e7e7e" stroke-width="0.7"/>
<rect x="289.500" y="163.000" width="6.125" height="5.900" fill="#ffffff" stroke="#7e7e7e" stroke-width="0.7"/>
<rect x="295.625" y="163.000" width="6.125" height="5.900" fill="#ffffff" stroke="#7e7e7e" stroke-width="0.7"/>
<rect x="301.750" y="163.000" width="6.125" height="5.900" fill="#ffffff" stroke="#7e7e7e" stroke-width="0.7"/>
<rect x="307.875" y="163.000" width="6.125" height="5.900" fill="#ffffff" stroke="#7e7e7e" stroke-width="0.7"/>
<rect x="314.000" y="163.000" width="6.125" height="5.900" fill="#8dc2ea" stroke="#7e7e7e" stroke-width="0.7"/>
<rect x="320.125" y="163.000" width="6.125" height="5.900" fill="#ffffff" stroke="#7e7e7e" stroke-width="0.7"/>
<rect x="326.250" y="163.000" width="6.125" height="5.900" fill="#ffffff" stroke="#7e7e7e" stroke-width="0.7"/>
<rect x="332.375" y="163.000" width="6.125" height="5.900" fill="#ffffff" stroke="#7e7e7e" stroke-width="0.7"/>
<rect x="338.500" y="163.000" width="6.125" height="5.900" fill="#c1def4" stroke="#7e7e7e" stroke-width="0.7"/>
<rect x="289.500" y="168.900" width="6.125" height="5.900" fill="#ffffff" stroke="#7e7e7e" stroke-width="0.7"/>
<rect x="295.625" y="168.900" width="6.125" height="5.900" fill="#ffffff" stroke="#7e7e7e" stroke-width="0.7"/>
<rect x="301.750" y="168.900" width="6.125" height="5.900" fill="#ffffff" stroke="#7e7e7e" stroke-width="0.7"/>
<rect x="307.875" y="168.900" width="6.125" height="5.900" fill="#f3cdd4" stroke="#7e7e7e" stroke-width="0.7"/>
<rect x="314.000" y="168.900" width="6.125" height="5.900" fill="#ffffff" stroke="#7e7e7e" stroke-width="0.7"/>
<rect x="320.125" y="168.900" width="6.125" height="5.900" fill="#f3cdd4" stroke="#7e7e7e" stroke-width="0.7"/>
<rect x="326.250" y="168.900" width="6.125" height="5.900" fill="#ffffff" stroke="#7e7e7e" stroke-width="0.7"/>
<rect x="332.375" y="168.900" width="6.125" height="5.900" fill="#ffffff" stroke="#7e7e7e" stroke-width="0.7"/>
<rect x="338.500" y="168.900" width="6.125" height="5.900" fill="#ffffff" stroke="#7e7e7e" stroke-width="0.7"/>
<rect x="344.625" y="168.900" width="6.125" height="5.900" fill="#ffffff" stroke="#7e7e7e" stroke-width="0.7"/>
<rect x="289.500" y="174.800" width="6.125" height="5.900" fill="#ffffff" stroke="#7e7e7e" stroke-width="0.7"/>
<rect x="295.625" y="174.800" width="6.125" height="5.900" fill="#ffffff" stroke="#7e7e7e" stroke-width="0.7"/>
<rect x="301.750" y="174.800" width="6.125" height="5.900" fill="#ffffff" stroke="#7e7e7e" stroke-width="0.7"/>
<rect x="307.875" y="174.800" width="6.125" height="5.900" fill="#ffffff" stroke="#7e7e7e" stroke-width="0.7"/>
<rect x="314.000" y="174.800" width="6.125" height="5.900" fill="#ffffff" stroke="#7e7e7e" stroke-width="0.7"/>
<rect x="320.125" y="174.800" width="6.125" height="5.900" fill="#ffffff" stroke="#7e7e7e" stroke-width="0.7"/>
<rect x="326.250" y="174.800" width="6.125" height="5.900" fill="#ffffff" stroke="#7e7e7e" stroke-width="0.7"/>
<rect x="332.375" y="174.800" width="6.125" height="5.900" fill="#ffffff" stroke="#7e7e7e" stroke-width="0.7"/>
<rect x="338.500" y="174.800" width="6.125" height="5.900" fill="#ffffff" stroke="#7e7e7e" stroke-width="0.7"/>
<rect x="344.625" y="174.800" width="6.125" height="5.900" fill="#ffffff" stroke="#7e7e7e" stroke-width="0.7"/>
<rect x="350.750" y="174.800" width="6.125" height="5.900" fill="#ffffff" stroke="#7e7e7e" stroke-width="0.7"/>
<rect x="289.500" y="180.700" width="6.125" height="5.900" fill="#ffffff" stroke="#7e7e7e" stroke-width="0.7"/>
<rect x="295.625" y="180.700" width="6.125" height="5.900" fill="#ffffff" stroke="#7e7e7e" stroke-width="0.7"/>
<rect x="301.750" y="180.700" width="6.125" height="5.900" fill="#ffffff" stroke="#7e7e7e" stroke-width="0.7"/>
<rect x="307.875" y="180.700" width="6.125" height="5.900" fill="#f3cdd4" stroke="#7e7e7e" stroke-width="0.7"/>
<rect x="314.000" y="180.700" width="6.125" height="5.900" fill="#ffffff" stroke="#7e7e7e" stroke-width="0.7"/>
<rect x="320.125" y="180.700" width="6.125" height="5.900" fill="#ffffff" stroke="#7e7e7e" stroke-width="0.7"/>
<rect x="326.250" y="180.700" width="6.125" height="5.900" fill="#c1def4" stroke="#7e7e7e" stroke-width="0.7"/>
<rect x="332.375" y="180.700" width="6.125" height="5.900" fill="#f3cdd4" stroke="#7e7e7e" stroke-width="0.7"/>
<rect x="338.500" y="180.700" width="6.125" height="5.900" fill="#ffffff" stroke="#7e7e7e" stroke-width="0.7"/>
<rect x="344.625" y="180.700" width="6.125" height="5.900" fill="#ffffff" stroke="#7e7e7e" stroke-width="0.7"/>
<rect x="350.750" y="180.700" width="6.125" height="5.900" fill="#f3cdd4" stroke="#7e7e7e" stroke-width="0.7"/>
<rect x="356.875" y="180.700" width="6.125" height="5.900" fill="#c1def4" stroke="#7e7e7e" stroke-width="0.7"/>
<rect x="289.500" y="186.600" width="6.125" height="5.900" fill="#8dc2ea" stroke="#7e7e7e" stroke-width="0.7"/>
<rect x="295.625" y="186.600" width="6.125" height="5.900" fill="#ffffff" stroke="#7e7e7e" stroke-width="0.7"/>
<rect x="301.750" y="186.600" width="6.125" height="5.900" fill="#ffffff" stroke="#7e7e7e" stroke-width="0.7"/>
<rect x="307.875" y="186.600" width="6.125" height="5.900" fill="#ffffff" stroke="#7e7e7e" stroke-width="0.7"/>
<rect x="314.000" y="186.600" width="6.125" height="5.900" fill="#c1def4" stroke="#7e7e7e" stroke-width="0.7"/>
<rect x="320.125" y="186.600" width="6.125" height="5.900" fill="#ffffff" stroke="#7e7e7e" stroke-width="0.7"/>
<rect x="326.250" y="186.600" width="6.125" height="5.900" fill="#ffffff" stroke="#7e7e7e" stroke-width="0.7"/>
<rect x="332.375" y="186.600" width="6.125" height="5.900" fill="#ffffff" stroke="#7e7e7e" stroke-width="0.7"/>
<rect x="338.500" y="186.600" width="6.125" height="5.900" fill="#ffffff" stroke="#7e7e7e" stroke-width="0.7"/>
<rect x="344.625" y="186.600" width="6.125" height="5.900" fill="#c1def4" stroke="#7e7e7e" stroke-width="0.7"/>
<rect x="350.750" y="186.600" width="6.125" height="5.900" fill="#ffffff" stroke="#7e7e7e" stroke-width="0.7"/>
<rect x="356.875" y="186.600" width="6.125" height="5.900" fill="#ffffff" stroke="#7e7e7e" stroke-width="0.7"/>
<rect x="363.000" y="186.600" width="6.125" height="5.900" fill="#ffffff" stroke="#7e7e7e" stroke-width="0.7"/>
<rect x="289.500" y="192.500" width="6.125" height="5.900" fill="#8dc2ea" stroke="#7e7e7e" stroke-width="0.7"/>
<rect x="295.625" y="192.500" width="6.125" height="5.900" fill="#ffffff" stroke="#7e7e7e" stroke-width="0.7"/>
<rect x="301.750" y="192.500" width="6.125" height="5.900" fill="#ffffff" stroke="#7e7e7e" stroke-width="0.7"/>
<rect x="307.875" y="192.500" width="6.125" height="5.900" fill="#ffffff" stroke="#7e7e7e" stroke-width="0.7"/>
<rect x="314.000" y="192.500" width="6.125" height="5.900" fill="#ffffff" stroke="#7e7e7e" stroke-width="0.7"/>
<rect x="320.125" y="192.500" width="6.125" height="5.900" fill="#ffffff" stroke="#7e7e7e" stroke-width="0.7"/>
<rect x="326.250" y="192.500" width="6.125" height="5.900" fill="#ffffff" stroke="#7e7e7e" stroke-width="0.7"/>
<rect x="332.375" y="192.500" width="6.125" height="5.900" fill="#ffffff" stroke="#7e7e7e" stroke-width="0.7"/>
<rect x="338.500" y="192.500" width="6.125" height="5.900" fill="#ffffff" stroke="#7e7e7e" stroke-width="0.7"/>
<rect x="344.625" y="192.500" width="6.125" height="5.900" fill="#ffffff" stroke="#7e7e7e" stroke-width="0.7"/>
<rect x="350.750" y="192.500" width="6.125" height="5.900" fill="#c1def4" stroke="#7e7e7e" stroke-width="0.7"/>
<rect x="356.875" y="192.500" width="6.125" height="5.900" fill="#ffffff" stroke="#7e7e7e" stroke-width="0.7"/>
<rect x="363.000" y="192.500" width="6.125" height="5.900" fill="#ffffff" stroke="#7e7e7e" stroke-width="0.7"/>
<rect x="369.125" y="192.500" width="6.125" height="5.900" fill="#ffffff" stroke="#7e7e7e" stroke-width="0.7"/>
<rect x="289.500" y="198.400" width="6.125" height="5.900" fill="#ffffff" stroke="#7e7e7e" stroke-width="0.7"/>
<rect x="295.625" y="198.400" width="6.125" height="5.900" fill="#ffffff" stroke="#7e7e7e" stroke-width="0.7"/>
<rect x="301.750" y="198.400" width="6.125" height="5.900" fill="#ffffff" stroke="#7e7e7e" stroke-width="0.7"/>
<rect x="307.875" y="198.400" width="6.125" height="5.900" fill="#ffffff" stroke="#7e7e7e" stroke-width="0.7"/>
<rect x="314.000" y="198.400" width="6.125" height="5.900" fill="#ffffff" stroke="#7e7e7e" stroke-width="0.7"/>
<rect x="320.125" y="198.400" width="6.125" height="5.900" fill="#ffffff" stroke="#7e7e7e" stroke-width="0.7"/>
<rect x="326.250" y="198.400" width="6.125" height="5.900" fill="#8dc2ea" stroke="#7e7e7e" stroke-width="0.7"/>
<rect x="332.375" y="198.400" width="6.125" height="5.900" fill="#ffffff" stroke="#7e7e7e" stroke-width="0.7"/>
<rect x="338.500" y="198.400" width="6.125" height="5.900" fill="#ffffff" stroke="#7e7e7e" stroke-width="0.7"/>
<rect x="344.625" y="198.400" width="6.125" height="5.900" fill="#ffffff" stroke="#7e7e7e" stroke-width="0.7"/>
<rect x="350.750" y="198.400" width="6.125" height="5.900" fill="#ffffff" stroke="#7e7e7e" stroke-width="0.7"/>
<rect x="356.875" y="198.400" width="6.125" height="5.900" fill="#ffffff" stroke="#7e7e7e" stroke-width="0.7"/>
<rect x="363.000" y="198.400" width="6.125" height="5.900" fill="#ffffff" stroke="#7e7e7e" stroke-width="0.7"/>
<rect x="369.125" y="198.400" width="6.125" height="5.900" fill="#ffffff" stroke="#7e7e7e" stroke-width="0.7"/>
<rect x="375.250" y="198.400" width="6.125" height="5.900" fill="#ffffff" stroke="#7e7e7e" stroke-width="0.7"/>
<rect x="289.500" y="204.300" width="6.125" height="5.900" fill="#ffffff" stroke="#7e7e7e" stroke-width="0.7"/>
<rect x="295.625" y="204.300" width="6.125" height="5.900" fill="#ffffff" stroke="#7e7e7e" stroke-width="0.7"/>
<rect x="301.750" y="204.300" width="6.125" height="5.900" fill="#ffffff" stroke="#7e7e7e" stroke-width="0.7"/>
<rect x="307.875" y="204.300" width="6.125" height="5.900" fill="#f3cdd4" stroke="#7e7e7e" stroke-width="0.7"/>
<rect x="314.000" y="204.300" width="6.125" height="5.900" fill="#ffffff" stroke="#7e7e7e" stroke-width="0.7"/>
<rect x="320.125" y="204.300" width="6.125" height="5.900" fill="#c1def4" stroke="#7e7e7e" stroke-width="0.7"/>
<rect x="326.250" y="204.300" width="6.125" height="5.900" fill="#ffffff" stroke="#7e7e7e" stroke-width="0.7"/>
<rect x="332.375" y="204.300" width="6.125" height="5.900" fill="#ffffff" stroke="#7e7e7e" stroke-width="0.7"/>
<rect x="338.500" y="204.300" width="6.125" height="5.900" fill="#ffffff" stroke="#7e7e7e" stroke-width="0.7"/>
<rect x="344.625" y="204.300" width="6.125" height="5.900" fill="#ffffff" stroke="#7e7e7e" stroke-width="0.7"/>
<rect x="350.750" y="204.300" width="6.125" height="5.900" fill="#ffffff" stroke="#7e7e7e" stroke-width="0.7"/>
<rect x="356.875" y="204.300" width="6.125" height="5.900" fill="#ffffff" stroke="#7e7e7e" stroke-width="0.7"/>
<rect x="363.000" y="204.300" width="6.125" height="5.900" fill="#c1def4" stroke="#7e7e7e" stroke-width="0.7"/>
<rect x="369.125" y="204.300" width="6.125" height="5.900" fill="#ffffff" stroke="#7e7e7e" stroke-width="0.7"/>
<rect x="375.250" y="204.300" width="6.125" height="5.900" fill="#ffffff" stroke="#7e7e7e" stroke-width="0.7"/>
<rect x="381.375" y="204.300" width="6.125" height="5.900" fill="#ffffff" stroke="#7e7e7e" stroke-width="0.7"/>
<rect x="289.500" y="210.200" width="6.125" height="5.900" fill="#ffffff" stroke="#7e7e7e" stroke-width="0.7"/>
<rect x="295.625" y="210.200" width="6.125" height="5.900" fill="#ffffff" stroke="#7e7e7e" stroke-width="0.7"/>
<rect x="301.750" y="210.200" width="6.125" height="5.900" fill="#ffffff" stroke="#7e7e7e" stroke-width="0.7"/>
<rect x="307.875" y="210.200" width="6.125" height="5.900" fill="#f3cdd4" stroke="#7e7e7e" stroke-width="0.7"/>
<rect x="314.000" y="210.200" width="6.125" height="5.900" fill="#ffffff" stroke="#7e7e7e" stroke-width="0.7"/>
<rect x="320.125" y="210.200" width="6.125" height="5.900" fill="#ffffff" stroke="#7e7e7e" stroke-width="0.7"/>
<rect x="326.250" y="210.200" width="6.125" height="5.900" fill="#ffffff" stroke="#7e7e7e" stroke-width="0.7"/>
<rect x="332.375" y="210.200" width="6.125" height="5.900" fill="#ffffff" stroke="#7e7e7e" stroke-width="0.7"/>
<rect x="338.500" y="210.200" width="6.125" height="5.900" fill="#ffffff" stroke="#7e7e7e" stroke-width="0.7"/>
<rect x="344.625" y="210.200" width="6.125" height="5.900" fill="#ffffff" stroke="#7e7e7e" stroke-width="0.7"/>
<rect x="350.750" y="210.200" width="6.125" height="5.900" fill="#ffffff" stroke="#7e7e7e" stroke-width="0.7"/>
<rect x="356.875" y="210.200" width="6.125" height="5.900" fill="#ffffff" stroke="#7e7e7e" stroke-width="0.7"/>
<rect x="363.000" y="210.200" width="6.125" height="5.900" fill="#ffffff" stroke="#7e7e7e" stroke-width="0.7"/>
<rect x="369.125" y="210.200" width="6.125" height="5.900" fill="#ffffff" stroke="#7e7e7e" stroke-width="0.7"/>
<rect x="375.250" y="210.200" width="6.125" height="5.900" fill="#c1def4" stroke="#7e7e7e" stroke-width="0.7"/>
<rect x="381.375" y="210.200" width="6.125" height="5.900" fill="#ffffff" stroke="#7e7e7e" stroke-width="0.7"/>
<rect x="387.500" y="210.200" width="6.125" height="5.900" fill="#ffffff" stroke="#7e7e7e" stroke-width="0.7"/>
<rect x="289.500" y="216.100" width="6.125" height="5.900" fill="#ffffff" stroke="#7e7e7e" stroke-width="0.7"/>
<rect x="295.625" y="216.100" width="6.125" height="5.900" fill="#ffffff" stroke="#7e7e7e" stroke-width="0.7"/>
<rect x="301.750" y="216.100" width="6.125" height="5.900" fill="#ffffff" stroke="#7e7e7e" stroke-width="0.7"/>
<rect x="307.875" y="216.100" width="6.125" height="5.900" fill="#ffffff" stroke="#7e7e7e" stroke-width="0.7"/>
<rect x="314.000" y="216.100" width="6.125" height="5.900" fill="#c1def4" stroke="#7e7e7e" stroke-width="0.7"/>
<rect x="320.125" y="216.100" width="6.125" height="5.900" fill="#f3cdd4" stroke="#7e7e7e" stroke-width="0.7"/>
<rect x="326.250" y="216.100" width="6.125" height="5.900" fill="#ffffff" stroke="#7e7e7e" stroke-width="0.7"/>
<rect x="332.375" y="216.100" width="6.125" height="5.900" fill="#ffffff" stroke="#7e7e7e" stroke-width="0.7"/>
<rect x="338.500" y="216.100" width="6.125" height="5.900" fill="#ffffff" stroke="#7e7e7e" stroke-width="0.7"/>
<rect x="344.625" y="216.100" width="6.125" height="5.900" fill="#ffffff" stroke="#7e7e7e" stroke-width="0.7"/>
<rect x="350.750" y="216.100" width="6.125" height="5.900" fill="#ffffff" stroke="#7e7e7e" stroke-width="0.7"/>
<rect x="356.875" y="216.100" width="6.125" height="5.900" fill="#8dc2ea" stroke="#7e7e7e" stroke-width="0.7"/>
<rect x="363.000" y="216.100" width="6.125" height="5.900" fill="#ffffff" stroke="#7e7e7e" stroke-width="0.7"/>
<rect x="369.125" y="216.100" width="6.125" height="5.900" fill="#ffffff" stroke="#7e7e7e" stroke-width="0.7"/>
<rect x="375.250" y="216.100" width="6.125" height="5.900" fill="#ffffff" stroke="#7e7e7e" stroke-width="0.7"/>
<rect x="381.375" y="216.100" width="6.125" height="5.900" fill="#ffffff" stroke="#7e7e7e" stroke-width="0.7"/>
<rect x="387.500" y="216.100" width="6.125" height="5.900" fill="#c1def4" stroke="#7e7e7e" stroke-width="0.7"/>
<rect x="393.625" y="216.100" width="6.125" height="5.900" fill="#c1def4" stroke="#7e7e7e" stroke-width="0.7"/>
<rect x="289.500" y="109.900" width="6.125" height="5.900" fill="#112a3d"/>
<rect x="295.625" y="115.800" width="6.125" height="5.900" fill="#112a3d"/>
<rect x="301.750" y="121.700" width="6.125" height="5.900" fill="#112a3d"/>
<rect x="307.875" y="127.600" width="6.125" height="5.900" fill="#112a3d"/>
<rect x="314.000" y="133.500" width="6.125" height="5.900" fill="#112a3d"/>
<rect x="320.125" y="139.400" width="6.125" height="5.900" fill="#112a3d"/>
<rect x="326.250" y="145.300" width="6.125" height="5.900" fill="#112a3d"/>
<rect x="332.375" y="151.200" width="6.125" height="5.900" fill="#112a3d"/>
<rect x="338.500" y="157.100" width="6.125" height="5.900" fill="#112a3d"/>
<rect x="344.625" y="163.000" width="6.125" height="5.900" fill="#112a3d"/>
<rect x="350.750" y="168.900" width="6.125" height="5.900" fill="#112a3d"/>
<rect x="356.875" y="174.800" width="6.125" height="5.900" fill="#112a3d"/>
<rect x="363.000" y="180.700" width="6.125" height="5.900" fill="#112a3d"/>
<rect x="369.125" y="186.600" width="6.125" height="5.900" fill="#112a3d"/>
<rect x="375.250" y="192.500" width="6.125" height="5.900" fill="#112a3d"/>
<rect x="381.375" y="198.400" width="6.125" height="5.900" fill="#112a3d"/>
<rect x="387.500" y="204.300" width="6.125" height="5.900" fill="#112a3d"/>
<rect x="393.625" y="210.200" width="6.125" height="5.900" fill="#112a3d"/>
<rect x="399.750" y="216.100" width="6.125" height="5.900" fill="#112a3d"/>
<circle cx="359.94" cy="219.05" r="0.55" fill="#123"/>
<text transform="translate(294.51,29.8) rotate(-90)" font-size="5.3" class="it" fill="#222">ASXL1</text>
<text transform="translate(300.64,29.8) rotate(-90)" font-size="5.3" class="it" fill="#222">ASXL2</text>
<text transform="translate(306.76,29.8) rotate(-90)" font-size="5.3" class="it" fill="#222">BRCC3</text>
<text transform="translate(312.89,29.8) rotate(-90)" font-size="5.3" class="it" fill="#222">CBL</text>
<text transform="translate(319.01,29.8) rotate(-90)" font-size="5.3" class="it" fill="#222">CCND2</text>
<text transform="translate(325.14,29.8) rotate(-90)" font-size="5.3" class="it" fill="#222">CSF3R</text>
<text transform="translate(331.26,29.8) rotate(-90)" font-size="5.3" class="it" fill="#222">DHX15</text>
<text transform="translate(337.39,29.8) rotate(-90)" font-size="5.3" class="it" fill="#222">DNM2</text>
<text transform="translate(343.51,29.8) rotate(-90)" font-size="5.3" class="it" fill="#222">DNMT3A</text>
<text transform="translate(349.64,29.8) rotate(-90)" font-size="5.3" class="it" fill="#222">EZH2</text>
<text transform="translate(355.76,29.8) rotate(-90)" font-size="5.3" class="it" fill="#222">FLT3</text>
<text transform="translate(361.89,29.8) rotate(-90)" font-size="5.3" class="it" fill="#222">JAK2</text>
<text transform="translate(368.01,29.8) rotate(-90)" font-size="5.3" class="it" fill="#222">JAK3</text>
<text transform="translate(374.14,29.8) rotate(-90)" font-size="5.3" class="it" fill="#222">KDM6A</text>
<text transform="translate(380.26,29.8) rotate(-90)" font-size="5.3" class="it" fill="#222">KIT</text>
<text transform="translate(386.39,29.8) rotate(-90)" font-size="5.3" class="it" fill="#222">KRAS</text>
<text transform="translate(392.51,29.8) rotate(-90)" font-size="5.3" class="it" fill="#222">MGA</text>
<text transform="translate(398.64,29.8) rotate(-90)" font-size="5.3" class="it" fill="#222">NRAS</text>
<text transform="translate(404.76,29.8) rotate(-90)" font-size="5.3" class="it" fill="#222">RAD21</text>
<text transform="translate(410.89,29.8) rotate(-90)" font-size="5.3" class="it" fill="#222">SMC1A</text>
<text transform="translate(417.01,29.8) rotate(-90)" font-size="5.3" class="it" fill="#222">SMC3</text>
<text transform="translate(423.14,29.8) rotate(-90)" font-size="5.3" class="it" fill="#222">SRCAP</text>
<text transform="translate(429.26,29.8) rotate(-90)" font-size="5.3" class="it" fill="#222">STAG2</text>
<text transform="translate(435.39,29.8) rotate(-90)" font-size="5.3" class="it" fill="#222">TET2</text>
<text transform="translate(441.51,29.8) rotate(-90)" font-size="5.3" class="it" fill="#222">WT1</text>
<text transform="translate(447.64,29.8) rotate(-90)" font-size="5.3" class="it" fill="#222">ZBTB7A</text>
<text transform="translate(453.76,29.8) rotate(-90)" font-size="5.3" class="it" fill="#222">ZNF318</text>
<text transform="translate(459.89,29.8) rotate(-90)" font-size="5.3" class="it" fill="#222">del(9q)</text>
<text transform="translate(466.01,29.8) rotate(-90)" font-size="5.3" class="it" fill="#222">-7/del(7q)</text>
<text transform="translate(472.14,29.8) rotate(-90)" font-size="5.3" class="it" fill="#222">-Y</text>
<text transform="translate(478.26,29.8) rotate(-90)" font-size="5.3" class="it" fill="#222">-X</text>
<text transform="translate(484.39,29.8) rotate(-90)" font-size="5.3" class="" fill="#222">+8</text>
<text x="488.0" y="37.95" font-size="5.3" class="it" fill="#222">ASXL1</text>
<text x="488.0" y="43.85" font-size="5.3" class="it" fill="#222">ASXL2</text>
<text x="488.0" y="49.75" font-size="5.3" class="it" fill="#222">BRCC3</text>
<text x="488.0" y="55.65" font-size="5.3" class="it" fill="#222">CBL</text>
<text x="488.0" y="61.55" font-size="5.3" class="it" fill="#222">CCND2</text>
<text x="488.0" y="67.45" font-size="5.3" class="it" fill="#222">CSF3R</text>
<text x="488.0" y="73.35" font-size="5.3" class="it" fill="#222">DHX15</text>
<text x="488.0" y="79.25" font-size="5.3" class="it" fill="#222">DNM2</text>
<text x="488.0" y="85.15" font-size="5.3" class="it" fill="#222">DNMT3A</text>
<text x="488.0" y="91.05" font-size="5.3" class="it" fill="#222">EZH2</text>
<text x="488.0" y="96.95" font-size="5.3" class="it" fill="#222">FLT3</text>
<text x="488.0" y="102.85" font-size="5.3" class="it" fill="#222">JAK2</text>
<text x="488.0" y="108.75" font-size="5.3" class="it" fill="#222">JAK3</text>
<text x="488.0" y="114.65" font-size="5.3" class="it" fill="#222">KDM6A</text>
<text x="488.0" y="120.55" font-size="5.3" class="it" fill="#222">KIT</text>
<text x="488.0" y="126.45" font-size="5.3" class="it" fill="#222">KRAS</text>
<text x="488.0" y="132.35" font-size="5.3" class="it" fill="#222">MGA</text>
<text x="488.0" y="138.25" font-size="5.3" class="it" fill="#222">NRAS</text>
<text x="488.0" y="144.15" font-size="5.3" class="it" fill="#222">RAD21</text>
<text x="488.0" y="150.05" font-size="5.3" class="it" fill="#222">SMC1A</text>
<text x="488.0" y="155.95" font-size="5.3" class="it" fill="#222">SMC3</text>
<text x="488.0" y="161.85" font-size="5.3" class="it" fill="#222">SRCAP</text>
<text x="488.0" y="167.75" font-size="5.3" class="it" fill="#222">STAG2</text>
<text x="488.0" y="173.65" font-size="5.3" class="it" fill="#222">TET2</text>
<text x="488.0" y="179.55" font-size="5.3" class="it" fill="#222">WT1</text>
<text x="488.0" y="185.45" font-size="5.3" class="it" fill="#222">ZBTB7A</text>
<text x="488.0" y="191.35" font-size="5.3" class="it" fill="#222">ZNF318</text>
<text x="488.0" y="197.25" font-size="5.3" class="it" fill="#222">del(9q)</text>
<text x="488.0" y="203.15" font-size="5.3" class="it" fill="#222">-7 / del(7q)</text>
<text x="488.0" y="209.05" font-size="5.3" class="it" fill="#222">-Y</text>
<text x="488.0" y="214.95" font-size="5.3" class="it" fill="#222">-X</text>
<text x="488.0" y="220.85" font-size="5.3" class="" fill="#222">+8</text>
<text x="265.0" y="114.30" font-size="5.5" class="it" fill="#222">BCOR</text>
<text x="265.0" y="120.20" font-size="5.5" class="it" fill="#222">BCORL1</text>
<text x="265.0" y="126.10" font-size="5.5" class="it" fill="#222">DNAH9</text>
<text x="265.0" y="132.00" font-size="5.5" class="it" fill="#222">FLT3</text>
<text x="265.0" y="137.90" font-size="5.5" class="it" fill="#222">FOXP1</text>
<text x="265.0" y="143.80" font-size="5.5" class="it" fill="#222">KIT</text>
<text x="265.0" y="149.70" font-size="5.5" class="it" fill="#222">KMT2D</text>
<text x="265.0" y="155.60" font-size="5.5" class="it" fill="#222">KRAS</text>
<text x="265.0" y="161.50" font-size="5.5" class="it" fill="#222">LAMA1</text>
<text x="265.0" y="167.40" font-size="5.5" class="it" fill="#222">NF1</text>
<text x="265.0" y="173.30" font-size="5.5" class="it" fill="#222">NRAS</text>
<text x="265.0" y="179.20" font-size="5.5" class="it" fill="#222">SH2B3</text>
<text x="265.0" y="185.10" font-size="5.5" class="it" fill="#222">SRCAP</text>
<text x="265.0" y="191.00" font-size="5.5" class="it" fill="#222">TET2</text>
<text x="265.0" y="196.90" font-size="5.5" class="it" fill="#222">WT1</text>
<text x="265.0" y="202.80" font-size="5.5" class="it" fill="#222">ZNF318</text>
<text x="265.0" y="208.70" font-size="5.5" class="it" fill="#222">del(7q)</text>
<text x="265.0" y="214.60" font-size="5.5" class="" fill="#222">+8</text>
<text x="265.0" y="220.50" font-size="5.5" class="" fill="#222">+22</text>
<text transform="translate(294.16,227.4) rotate(-90)" font-size="5.35" class="it" text-anchor="end" fill="#222">BCOR</text>
<text transform="translate(300.29,227.4) rotate(-90)" font-size="5.35" class="it" text-anchor="end" fill="#222">BCORL1</text>
<text transform="translate(306.41,227.4) rotate(-90)" font-size="5.35" class="it" text-anchor="end" fill="#222">DNAH9</text>
<text transform="translate(312.54,227.4) rotate(-90)" font-size="5.35" class="it" text-anchor="end" fill="#222">FLT3</text>
<text transform="translate(318.66,227.4) rotate(-90)" font-size="5.35" class="it" text-anchor="end" fill="#222">FOXP1</text>
<text transform="translate(324.79,227.4) rotate(-90)" font-size="5.35" class="it" text-anchor="end" fill="#222">KIT</text>
<text transform="translate(330.91,227.4) rotate(-90)" font-size="5.35" class="it" text-anchor="end" fill="#222">KMT2D</text>
<text transform="translate(337.04,227.4) rotate(-90)" font-size="5.35" class="it" text-anchor="end" fill="#222">KRAS</text>
<text transform="translate(343.16,227.4) rotate(-90)" font-size="5.35" class="it" text-anchor="end" fill="#222">LAMA1</text>
<text transform="translate(349.29,227.4) rotate(-90)" font-size="5.35" class="it" text-anchor="end" fill="#222">NF1</text>
<text transform="translate(355.41,227.4) rotate(-90)" font-size="5.35" class="it" text-anchor="end" fill="#222">NRAS</text>
<text transform="translate(361.54,227.4) rotate(-90)" font-size="5.35" class="it" text-anchor="end" fill="#222">SH2B3</text>
<text transform="translate(367.66,227.4) rotate(-90)" font-size="5.35" class="it" text-anchor="end" fill="#222">SRCAP</text>
<text transform="translate(373.79,227.4) rotate(-90)" font-size="5.35" class="it" text-anchor="end" fill="#222">TET2</text>
<text transform="translate(379.91,227.4) rotate(-90)" font-size="5.35" class="it" text-anchor="end" fill="#222">WT1</text>
<text transform="translate(386.04,227.4) rotate(-90)" font-size="5.35" class="it" text-anchor="end" fill="#222">ZNF318</text>
<text transform="translate(392.16,227.4) rotate(-90)" font-size="5.35" class="it" text-anchor="end" fill="#222">del(7q)</text>
<text transform="translate(398.29,227.4) rotate(-90)" font-size="5.35" class="" text-anchor="end" fill="#222">+8</text>
<text transform="translate(404.41,227.4) rotate(-90)" font-size="5.35" class="" text-anchor="end" fill="#222">+22</text>
<text transform="translate(364.0,129.9) rotate(45)" font-size="5.5" fill="#111">t(8;21) AML</text>
<text transform="translate(348.0,147.0) rotate(45)" font-size="5.5" fill="#111">inv(16) AML</text>
<rect x="335.900" y="250.9" width="8.977" height="10" fill="#5e0f1c"/>
<rect x="344.827" y="250.9" width="8.977" height="10" fill="#8e1b29"/>
<rect x="353.755" y="250.9" width="8.977" height="10" fill="#d0606a"/>
<rect x="362.682" y="250.9" width="8.977" height="10" fill="#e59aa3"/>
<rect x="371.609" y="250.9" width="8.977" height="10" fill="#f2c9cf"/>
<rect x="380.536" y="250.9" width="8.977" height="10" fill="#ffffff"/>
<rect x="389.464" y="250.9" width="8.977" height="10" fill="#b9dbef"/>
<rect x="398.391" y="250.9" width="8.977" height="10" fill="#8cc2e8"/>
<rect x="407.318" y="250.9" width="8.977" height="10" fill="#1f9ad6"/>
<rect x="416.245" y="250.9" width="8.977" height="10" fill="#0b426b"/>
<rect x="425.173" y="250.9" width="8.977" height="10" fill="#06233a"/>
<line x1="333.3" y1="266.7" x2="436.5" y2="266.7" stroke="#111" stroke-width="1.0"/>
<line x1="335.90" y1="266.7" x2="335.90" y2="269.6" stroke="#111" stroke-width="0.9"/>
<text transform="translate(338.40,276.8) rotate(-45)" font-size="5.2" text-anchor="end" fill="#222">-1.0</text>
<line x1="344.83" y1="266.7" x2="344.83" y2="269.6" stroke="#111" stroke-width="0.9"/>
<text transform="translate(347.33,276.8) rotate(-45)" font-size="5.2" text-anchor="end" fill="#222">-0.7</text>
<line x1="353.75" y1="266.7" x2="353.75" y2="269.6" stroke="#111" stroke-width="0.9"/>
<text transform="translate(356.25,276.8) rotate(-45)" font-size="5.2" text-anchor="end" fill="#222">-0.4</text>
<line x1="362.68" y1="266.7" x2="362.68" y2="269.6" stroke="#111" stroke-width="0.9"/>
<text transform="translate(365.18,276.8) rotate(-45)" font-size="5.2" text-anchor="end" fill="#222">-0.3</text>
<line x1="371.61" y1="266.7" x2="371.61" y2="269.6" stroke="#111" stroke-width="0.9"/>
<text transform="translate(374.11,276.8) rotate(-45)" font-size="5.2" text-anchor="end" fill="#222">-0.2</text>
<line x1="380.54" y1="266.7" x2="380.54" y2="269.6" stroke="#111" stroke-width="0.9"/>
<text transform="translate(383.04,276.8) rotate(-45)" font-size="5.2" text-anchor="end" fill="#222">-0.1</text>
<line x1="389.46" y1="266.7" x2="389.46" y2="269.6" stroke="#111" stroke-width="0.9"/>
<text transform="translate(391.96,276.8) rotate(-45)" font-size="5.2" text-anchor="end" fill="#222">0.1</text>
<line x1="398.39" y1="266.7" x2="398.39" y2="269.6" stroke="#111" stroke-width="0.9"/>
<text transform="translate(400.89,276.8) rotate(-45)" font-size="5.2" text-anchor="end" fill="#222">0.2</text>
<line x1="407.32" y1="266.7" x2="407.32" y2="269.6" stroke="#111" stroke-width="0.9"/>
<text transform="translate(409.82,276.8) rotate(-45)" font-size="5.2" text-anchor="end" fill="#222">0.3</text>
<line x1="416.25" y1="266.7" x2="416.25" y2="269.6" stroke="#111" stroke-width="0.9"/>
<text transform="translate(418.75,276.8) rotate(-45)" font-size="5.2" text-anchor="end" fill="#222">0.4</text>
<line x1="425.17" y1="266.7" x2="425.17" y2="269.6" stroke="#111" stroke-width="0.9"/>
<text transform="translate(427.67,276.8) rotate(-45)" font-size="5.2" text-anchor="end" fill="#222">0.7</text>
<line x1="434.10" y1="266.7" x2="434.10" y2="269.6" stroke="#111" stroke-width="0.9"/>
<text transform="translate(436.60,276.8) rotate(-45)" font-size="5.2" text-anchor="end" fill="#222">1.0</text>
<text x="292.9" y="268.0" font-size="5.15" fill="#222">Phi-coefficient</text>
<text x="444.7" y="259.9" font-size="5" fill="#222">*<tspan font-style="italic">p</tspan>&lt; .05</text>
<text x="444.7" y="266.3" font-size="5" fill="#222">** <tspan font-style="italic">p</tspan>&lt; .01</text>
<text x="444.7" y="272.9" font-size="5" fill="#222">*** <tspan font-style="italic">p</tspan>&lt; .001</text>
<rect x="0" y="288" width="520" height="1" fill="#999"/>
<rect x="0" y="0" width="520" height="1" fill="#000"/>
<rect x="0" y="0" width="1" height="290" fill="#000"/>
<rect x="519" y="0" width="1" height="290" fill="#000"/>
<rect x="0" y="289" width="520" height="1" fill="#000"/>
</svg></body></html>
